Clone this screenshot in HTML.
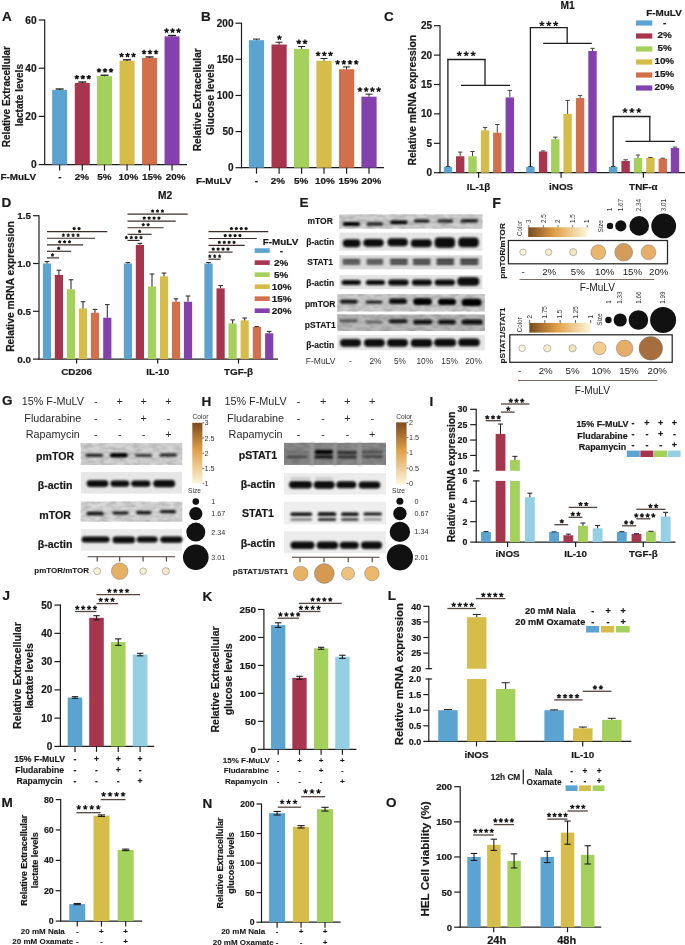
<!DOCTYPE html>
<html><head><meta charset="utf-8"><style>
html,body{margin:0;padding:0;background:#fff;width:685px;height:945px;overflow:hidden}
svg{display:block}
text{font-family:"Liberation Sans",sans-serif}
svg{opacity:0.999}
</style></head><body>
<svg width="685" height="945" viewBox="0 0 685 945">
<defs>
<filter id="b1" x="-20%" y="-50%" width="140%" height="200%"><feGaussianBlur stdDeviation="0.9"/></filter>
<filter id="b2" x="-20%" y="-50%" width="140%" height="200%"><feGaussianBlur stdDeviation="0.6"/></filter>
<filter id="b3" x="-20%" y="-80%" width="140%" height="260%"><feGaussianBlur stdDeviation="0.8"/></filter>
<filter id="bb" x="-5%" y="-20%" width="110%" height="140%"><feGaussianBlur stdDeviation="1.2"/></filter>
<filter id="nz" x="0" y="0" width="100%" height="100%" color-interpolation-filters="sRGB"><feTurbulence type="fractalNoise" baseFrequency="0.12 0.25" numOctaves="2" seed="7"/><feColorMatrix type="matrix" values="0 0 0 0 0  0 0 0 0 0  0 0 0 0 0  0.3 0 0 0 -0.1"/><feGaussianBlur stdDeviation="0.5"/></filter>
<linearGradient id="gh" x1="0" y1="0" x2="1" y2="0"><stop offset="0" stop-color="#7b4a1e"/><stop offset="0.45" stop-color="#e0a048"/><stop offset="1" stop-color="#fbf6dc"/></linearGradient>
<linearGradient id="gv" x1="0" y1="0" x2="0" y2="1"><stop offset="0" stop-color="#7b4a1e"/><stop offset="0.45" stop-color="#e0a048"/><stop offset="1" stop-color="#fbf6dc"/></linearGradient>
</defs>
<rect width="685" height="945" fill="#fff"/>
<text x="1.9" y="20.53" font-size="13.5" font-weight="700" text-anchor="start" fill="#1a1a1a" stroke="#1a1a1a" stroke-width="0.2">A</text>
<line x1="44.7" y1="19.5" x2="44.7" y2="165.1" stroke="#1e1e1e" stroke-width="1.2"/>
<line x1="38.7" y1="164.6" x2="44.7" y2="164.6" stroke="#1e1e1e" stroke-width="1.2"/>
<text x="36.7" y="168.25" font-size="10.2" font-weight="700" text-anchor="end" fill="#1a1a1a" stroke="#1a1a1a" stroke-width="0.2">0</text>
<line x1="38.7" y1="116.4" x2="44.7" y2="116.4" stroke="#1e1e1e" stroke-width="1.2"/>
<text x="36.7" y="120.05" font-size="10.2" font-weight="700" text-anchor="end" fill="#1a1a1a" stroke="#1a1a1a" stroke-width="0.2">20</text>
<line x1="38.7" y1="68.2" x2="44.7" y2="68.2" stroke="#1e1e1e" stroke-width="1.2"/>
<text x="36.7" y="71.85" font-size="10.2" font-weight="700" text-anchor="end" fill="#1a1a1a" stroke="#1a1a1a" stroke-width="0.2">40</text>
<line x1="38.7" y1="20" x2="44.7" y2="20" stroke="#1e1e1e" stroke-width="1.2"/>
<text x="36.7" y="23.65" font-size="10.2" font-weight="700" text-anchor="end" fill="#1a1a1a" stroke="#1a1a1a" stroke-width="0.2">60</text>
<line x1="44.2" y1="164.6" x2="187" y2="164.6" stroke="#1e1e1e" stroke-width="1.2"/>
<rect x="52.15" y="89.89" width="15" height="74.71" fill="#5ba3d1"/>
<line x1="59.65" y1="88.99" x2="59.65" y2="89.89" stroke="#1a1a1a" stroke-width="1.3"/>
<line x1="55.65" y1="88.99" x2="63.65" y2="88.99" stroke="#1a1a1a" stroke-width="1.3"/>
<line x1="59.65" y1="164.6" x2="59.65" y2="170.6" stroke="#1e1e1e" stroke-width="1.2"/>
<text x="59.9" y="180.04" font-size="9.9" font-weight="700" text-anchor="middle" fill="#1a1a1a" stroke="#1a1a1a" stroke-width="0.2">-</text>
<rect x="74.8" y="82.9" width="15" height="81.7" fill="#a8354e"/>
<line x1="82.3" y1="82" x2="82.3" y2="82.9" stroke="#1a1a1a" stroke-width="1.3"/>
<line x1="78.3" y1="82" x2="86.3" y2="82" stroke="#1a1a1a" stroke-width="1.3"/>
<line x1="82.3" y1="164.6" x2="82.3" y2="170.6" stroke="#1e1e1e" stroke-width="1.2"/>
<text x="81.8" y="180.04" font-size="9.9" font-weight="700" text-anchor="middle" fill="#1a1a1a" stroke="#1a1a1a" stroke-width="0.2">2%</text>
<path d="M76.8 77.24L76.8 74.89M76.8 77.24L79.03 76.51M76.8 77.24L78.18 79.14M76.8 77.24L75.42 79.14M76.8 77.24L74.57 76.51M82.8 77.24L82.8 74.89M82.8 77.24L85.03 76.51M82.8 77.24L84.18 79.14M82.8 77.24L81.42 79.14M82.8 77.24L80.57 76.51M88.8 77.24L88.8 74.89M88.8 77.24L91.03 76.51M88.8 77.24L90.18 79.14M88.8 77.24L87.42 79.14M88.8 77.24L86.57 76.51" stroke="#161616" stroke-width="1.4" fill="none"/>
<rect x="97" y="76.15" width="15" height="88.45" fill="#a4d05c"/>
<line x1="104.5" y1="75.25" x2="104.5" y2="76.15" stroke="#1a1a1a" stroke-width="1.3"/>
<line x1="100.5" y1="75.25" x2="108.5" y2="75.25" stroke="#1a1a1a" stroke-width="1.3"/>
<line x1="104.5" y1="164.6" x2="104.5" y2="170.6" stroke="#1e1e1e" stroke-width="1.2"/>
<text x="104.5" y="180.04" font-size="9.9" font-weight="700" text-anchor="middle" fill="#1a1a1a" stroke="#1a1a1a" stroke-width="0.2">5%</text>
<path d="M99 70.49L99 68.14M99 70.49L101.23 69.76M99 70.49L100.38 72.39M99 70.49L97.62 72.39M99 70.49L96.77 69.76M105 70.49L105 68.14M105 70.49L107.23 69.76M105 70.49L106.38 72.39M105 70.49L103.62 72.39M105 70.49L102.77 69.76M111 70.49L111 68.14M111 70.49L113.23 69.76M111 70.49L112.38 72.39M111 70.49L109.62 72.39M111 70.49L108.77 69.76" stroke="#161616" stroke-width="1.4" fill="none"/>
<rect x="119.55" y="60.73" width="15" height="103.87" fill="#d6bc48"/>
<line x1="127.05" y1="59.83" x2="127.05" y2="60.73" stroke="#1a1a1a" stroke-width="1.3"/>
<line x1="123.05" y1="59.83" x2="131.05" y2="59.83" stroke="#1a1a1a" stroke-width="1.3"/>
<line x1="127.05" y1="164.6" x2="127.05" y2="170.6" stroke="#1e1e1e" stroke-width="1.2"/>
<text x="128.5" y="180.04" font-size="9.9" font-weight="700" text-anchor="middle" fill="#1a1a1a" stroke="#1a1a1a" stroke-width="0.2">10%</text>
<path d="M121.55 55.06L121.55 52.71M121.55 55.06L123.78 54.34M121.55 55.06L122.93 56.97M121.55 55.06L120.17 56.97M121.55 55.06L119.32 54.34M127.55 55.06L127.55 52.71M127.55 55.06L129.78 54.34M127.55 55.06L128.93 56.97M127.55 55.06L126.17 56.97M127.55 55.06L125.32 54.34M133.55 55.06L133.55 52.71M133.55 55.06L135.78 54.34M133.55 55.06L134.93 56.97M133.55 55.06L132.17 56.97M133.55 55.06L131.32 54.34" stroke="#161616" stroke-width="1.4" fill="none"/>
<rect x="142.05" y="57.84" width="15" height="106.76" fill="#d1704b"/>
<line x1="149.55" y1="56.94" x2="149.55" y2="57.84" stroke="#1a1a1a" stroke-width="1.3"/>
<line x1="145.55" y1="56.94" x2="153.55" y2="56.94" stroke="#1a1a1a" stroke-width="1.3"/>
<line x1="149.55" y1="164.6" x2="149.55" y2="170.6" stroke="#1e1e1e" stroke-width="1.2"/>
<text x="152" y="180.04" font-size="9.9" font-weight="700" text-anchor="middle" fill="#1a1a1a" stroke="#1a1a1a" stroke-width="0.2">15%</text>
<path d="M144.05 52.17L144.05 49.82M144.05 52.17L146.28 51.45M144.05 52.17L145.43 54.07M144.05 52.17L142.67 54.07M144.05 52.17L141.82 51.45M150.05 52.17L150.05 49.82M150.05 52.17L152.28 51.45M150.05 52.17L151.43 54.07M150.05 52.17L148.67 54.07M150.05 52.17L147.82 51.45M156.05 52.17L156.05 49.82M156.05 52.17L158.28 51.45M156.05 52.17L157.43 54.07M156.05 52.17L154.67 54.07M156.05 52.17L153.82 51.45" stroke="#161616" stroke-width="1.4" fill="none"/>
<rect x="164.55" y="36.39" width="15" height="128.21" fill="#8441ae"/>
<line x1="172.05" y1="35.49" x2="172.05" y2="36.39" stroke="#1a1a1a" stroke-width="1.3"/>
<line x1="168.05" y1="35.49" x2="176.05" y2="35.49" stroke="#1a1a1a" stroke-width="1.3"/>
<line x1="172.05" y1="164.6" x2="172.05" y2="170.6" stroke="#1e1e1e" stroke-width="1.2"/>
<text x="175.7" y="180.04" font-size="9.9" font-weight="700" text-anchor="middle" fill="#1a1a1a" stroke="#1a1a1a" stroke-width="0.2">20%</text>
<path d="M166.55 30.72L166.55 28.37M166.55 30.72L168.78 30M166.55 30.72L167.93 32.62M166.55 30.72L165.17 32.62M166.55 30.72L164.32 30M172.55 30.72L172.55 28.37M172.55 30.72L174.78 30M172.55 30.72L173.93 32.62M172.55 30.72L171.17 32.62M172.55 30.72L170.32 30M178.55 30.72L178.55 28.37M178.55 30.72L180.78 30M178.55 30.72L179.93 32.62M178.55 30.72L177.17 32.62M178.55 30.72L176.32 30" stroke="#161616" stroke-width="1.4" fill="none"/>
<text x="0.5" y="180.14" font-size="9.9" font-weight="700" text-anchor="start" fill="#1a1a1a" stroke="#1a1a1a" stroke-width="0.2">F-MuLV</text>
<text x="6.8" y="100.18" font-size="10" font-weight="700" text-anchor="middle" fill="#1a1a1a" transform="rotate(-90 6.8 96.6)" stroke="#1a1a1a" stroke-width="0.2">Relative Extracellular</text>
<text x="19.4" y="98.78" font-size="10" font-weight="700" text-anchor="middle" fill="#1a1a1a" transform="rotate(-90 19.4 95.2)" stroke="#1a1a1a" stroke-width="0.2">lactate levels</text>
<text x="201" y="20.53" font-size="13.5" font-weight="700" text-anchor="start" fill="#1a1a1a" stroke="#1a1a1a" stroke-width="0.2">B</text>
<line x1="241.5" y1="22.7" x2="241.5" y2="168.2" stroke="#1e1e1e" stroke-width="1.2"/>
<line x1="235.5" y1="167.7" x2="241.5" y2="167.7" stroke="#1e1e1e" stroke-width="1.2"/>
<text x="233.5" y="171.28" font-size="10" font-weight="700" text-anchor="end" fill="#1a1a1a" stroke="#1a1a1a" stroke-width="0.2">0</text>
<line x1="235.5" y1="131.57" x2="241.5" y2="131.57" stroke="#1e1e1e" stroke-width="1.2"/>
<text x="233.5" y="135.16" font-size="10" font-weight="700" text-anchor="end" fill="#1a1a1a" stroke="#1a1a1a" stroke-width="0.2">50</text>
<line x1="235.5" y1="95.45" x2="241.5" y2="95.45" stroke="#1e1e1e" stroke-width="1.2"/>
<text x="233.5" y="99.03" font-size="10" font-weight="700" text-anchor="end" fill="#1a1a1a" stroke="#1a1a1a" stroke-width="0.2">100</text>
<line x1="235.5" y1="59.32" x2="241.5" y2="59.32" stroke="#1e1e1e" stroke-width="1.2"/>
<text x="233.5" y="62.9" font-size="10" font-weight="700" text-anchor="end" fill="#1a1a1a" stroke="#1a1a1a" stroke-width="0.2">150</text>
<line x1="235.5" y1="23.2" x2="241.5" y2="23.2" stroke="#1e1e1e" stroke-width="1.2"/>
<text x="233.5" y="26.78" font-size="10" font-weight="700" text-anchor="end" fill="#1a1a1a" stroke="#1a1a1a" stroke-width="0.2">200</text>
<line x1="241" y1="167.7" x2="384" y2="167.7" stroke="#1e1e1e" stroke-width="1.2"/>
<rect x="248.9" y="40.18" width="15.2" height="127.52" fill="#5ba3d1"/>
<line x1="256.5" y1="39.09" x2="256.5" y2="40.18" stroke="#1e1e1e" stroke-width="1"/>
<line x1="253" y1="39.09" x2="260" y2="39.09" stroke="#1e1e1e" stroke-width="1"/>
<line x1="256.5" y1="167.7" x2="256.5" y2="173.7" stroke="#1e1e1e" stroke-width="1.2"/>
<text x="256.4" y="184.14" font-size="9.9" font-weight="700" text-anchor="middle" fill="#1a1a1a" stroke="#1a1a1a" stroke-width="0.2">-</text>
<rect x="271.5" y="44.51" width="15.2" height="123.19" fill="#a8354e"/>
<line x1="279.1" y1="42.2" x2="279.1" y2="44.51" stroke="#1e1e1e" stroke-width="1"/>
<line x1="275.6" y1="42.2" x2="282.6" y2="42.2" stroke="#1e1e1e" stroke-width="1"/>
<line x1="279.1" y1="167.7" x2="279.1" y2="173.7" stroke="#1e1e1e" stroke-width="1.2"/>
<text x="277.8" y="184.14" font-size="9.9" font-weight="700" text-anchor="middle" fill="#1a1a1a" stroke="#1a1a1a" stroke-width="0.2">2%</text>
<path d="M279.4 37.65L279.4 35.2M279.4 37.65L281.73 36.89M279.4 37.65L280.84 39.63M279.4 37.65L277.96 39.63M279.4 37.65L277.07 36.89" stroke="#161616" stroke-width="1.4" fill="none"/>
<rect x="294" y="48.85" width="15.2" height="118.85" fill="#a4d05c"/>
<line x1="301.6" y1="46.54" x2="301.6" y2="48.85" stroke="#1e1e1e" stroke-width="1"/>
<line x1="298.1" y1="46.54" x2="305.1" y2="46.54" stroke="#1e1e1e" stroke-width="1"/>
<line x1="301.6" y1="167.7" x2="301.6" y2="173.7" stroke="#1e1e1e" stroke-width="1.2"/>
<text x="301.1" y="184.14" font-size="9.9" font-weight="700" text-anchor="middle" fill="#1a1a1a" stroke="#1a1a1a" stroke-width="0.2">5%</text>
<path d="M298.8 41.98L298.8 39.53M298.8 41.98L301.13 41.22M298.8 41.98L300.24 43.96M298.8 41.98L297.36 43.96M298.8 41.98L296.47 41.22M305 41.98L305 39.53M305 41.98L307.33 41.22M305 41.98L306.44 43.96M305 41.98L303.56 43.96M305 41.98L302.67 41.22" stroke="#161616" stroke-width="1.4" fill="none"/>
<rect x="316.4" y="60.77" width="15.2" height="106.93" fill="#d6bc48"/>
<line x1="324" y1="58.46" x2="324" y2="60.77" stroke="#1e1e1e" stroke-width="1"/>
<line x1="320.5" y1="58.46" x2="327.5" y2="58.46" stroke="#1e1e1e" stroke-width="1"/>
<line x1="324" y1="167.7" x2="324" y2="173.7" stroke="#1e1e1e" stroke-width="1.2"/>
<text x="324.9" y="184.14" font-size="9.9" font-weight="700" text-anchor="middle" fill="#1a1a1a" stroke="#1a1a1a" stroke-width="0.2">10%</text>
<path d="M318.1 53.9L318.1 51.45M318.1 53.9L320.43 53.15M318.1 53.9L319.54 55.89M318.1 53.9L316.66 55.89M318.1 53.9L315.77 53.15M324.3 53.9L324.3 51.45M324.3 53.9L326.63 53.15M324.3 53.9L325.74 55.89M324.3 53.9L322.86 55.89M324.3 53.9L321.97 53.15M330.5 53.9L330.5 51.45M330.5 53.9L332.83 53.15M330.5 53.9L331.94 55.89M330.5 53.9L329.06 55.89M330.5 53.9L328.17 53.15" stroke="#161616" stroke-width="1.4" fill="none"/>
<rect x="339" y="69.22" width="15.2" height="98.48" fill="#d1704b"/>
<line x1="346.6" y1="66.91" x2="346.6" y2="69.22" stroke="#1e1e1e" stroke-width="1"/>
<line x1="343.1" y1="66.91" x2="350.1" y2="66.91" stroke="#1e1e1e" stroke-width="1"/>
<line x1="346.6" y1="167.7" x2="346.6" y2="173.7" stroke="#1e1e1e" stroke-width="1.2"/>
<text x="348.3" y="184.14" font-size="9.9" font-weight="700" text-anchor="middle" fill="#1a1a1a" stroke="#1a1a1a" stroke-width="0.2">15%</text>
<path d="M337.6 62.36L337.6 59.91M337.6 62.36L339.93 61.6M337.6 62.36L339.04 64.34M337.6 62.36L336.16 64.34M337.6 62.36L335.27 61.6M343.8 62.36L343.8 59.91M343.8 62.36L346.13 61.6M343.8 62.36L345.24 64.34M343.8 62.36L342.36 64.34M343.8 62.36L341.47 61.6M350 62.36L350 59.91M350 62.36L352.33 61.6M350 62.36L351.44 64.34M350 62.36L348.56 64.34M350 62.36L347.67 61.6M356.2 62.36L356.2 59.91M356.2 62.36L358.53 61.6M356.2 62.36L357.64 64.34M356.2 62.36L354.76 64.34M356.2 62.36L353.87 61.6" stroke="#161616" stroke-width="1.4" fill="none"/>
<rect x="361.4" y="96.68" width="15.2" height="71.02" fill="#8441ae"/>
<line x1="369" y1="94.15" x2="369" y2="96.68" stroke="#1e1e1e" stroke-width="1"/>
<line x1="365.5" y1="94.15" x2="372.5" y2="94.15" stroke="#1e1e1e" stroke-width="1"/>
<line x1="369" y1="167.7" x2="369" y2="173.7" stroke="#1e1e1e" stroke-width="1.2"/>
<text x="371.5" y="184.14" font-size="9.9" font-weight="700" text-anchor="middle" fill="#1a1a1a" stroke="#1a1a1a" stroke-width="0.2">20%</text>
<path d="M360 89.59L360 87.14M360 89.59L362.33 88.84M360 89.59L361.44 91.58M360 89.59L358.56 91.58M360 89.59L357.67 88.84M366.2 89.59L366.2 87.14M366.2 89.59L368.53 88.84M366.2 89.59L367.64 91.58M366.2 89.59L364.76 91.58M366.2 89.59L363.87 88.84M372.4 89.59L372.4 87.14M372.4 89.59L374.73 88.84M372.4 89.59L373.84 91.58M372.4 89.59L370.96 91.58M372.4 89.59L370.07 88.84M378.6 89.59L378.6 87.14M378.6 89.59L380.93 88.84M378.6 89.59L380.04 91.58M378.6 89.59L377.16 91.58M378.6 89.59L376.27 88.84" stroke="#161616" stroke-width="1.4" fill="none"/>
<text x="196" y="184.34" font-size="9.9" font-weight="700" text-anchor="start" fill="#1a1a1a" stroke="#1a1a1a" stroke-width="0.2">F-MuLV</text>
<text x="197.2" y="103.35" font-size="10.2" font-weight="700" text-anchor="middle" fill="#1a1a1a" transform="rotate(-90 197.2 99.7)" stroke="#1a1a1a" stroke-width="0.2">Relative Extracellular</text>
<text x="209.9" y="103.05" font-size="10.2" font-weight="700" text-anchor="middle" fill="#1a1a1a" transform="rotate(-90 209.9 99.4)" stroke="#1a1a1a" stroke-width="0.2">Glucose levels</text>
<text x="383.9" y="20.53" font-size="13.5" font-weight="700" text-anchor="start" fill="#1a1a1a" stroke="#1a1a1a" stroke-width="0.2">C</text>
<text x="567.5" y="9.25" font-size="10.2" font-weight="700" text-anchor="middle" fill="#1a1a1a" stroke="#1a1a1a" stroke-width="0.2">M1</text>
<line x1="440" y1="25.2" x2="440" y2="173.2" stroke="#1e1e1e" stroke-width="1.2"/>
<line x1="434" y1="172.7" x2="440" y2="172.7" stroke="#1e1e1e" stroke-width="1.2"/>
<text x="432" y="176.28" font-size="10" font-weight="700" text-anchor="end" fill="#1a1a1a" stroke="#1a1a1a" stroke-width="0.2">0</text>
<line x1="434" y1="143.3" x2="440" y2="143.3" stroke="#1e1e1e" stroke-width="1.2"/>
<text x="432" y="146.88" font-size="10" font-weight="700" text-anchor="end" fill="#1a1a1a" stroke="#1a1a1a" stroke-width="0.2">5</text>
<line x1="434" y1="113.9" x2="440" y2="113.9" stroke="#1e1e1e" stroke-width="1.2"/>
<text x="432" y="117.48" font-size="10" font-weight="700" text-anchor="end" fill="#1a1a1a" stroke="#1a1a1a" stroke-width="0.2">10</text>
<line x1="434" y1="84.5" x2="440" y2="84.5" stroke="#1e1e1e" stroke-width="1.2"/>
<text x="432" y="88.08" font-size="10" font-weight="700" text-anchor="end" fill="#1a1a1a" stroke="#1a1a1a" stroke-width="0.2">15</text>
<line x1="434" y1="55.1" x2="440" y2="55.1" stroke="#1e1e1e" stroke-width="1.2"/>
<text x="432" y="58.68" font-size="10" font-weight="700" text-anchor="end" fill="#1a1a1a" stroke="#1a1a1a" stroke-width="0.2">20</text>
<line x1="434" y1="25.7" x2="440" y2="25.7" stroke="#1e1e1e" stroke-width="1.2"/>
<text x="432" y="29.28" font-size="10" font-weight="700" text-anchor="end" fill="#1a1a1a" stroke="#1a1a1a" stroke-width="0.2">25</text>
<line x1="439.5" y1="172.7" x2="685" y2="172.7" stroke="#1e1e1e" stroke-width="1.2"/>
<rect x="443.8" y="166.82" width="8.4" height="5.88" fill="#5ba3d1"/>
<line x1="448" y1="166.53" x2="448" y2="166.82" stroke="#444" stroke-width="1"/>
<line x1="445.8" y1="166.53" x2="450.2" y2="166.53" stroke="#444" stroke-width="1"/>
<rect x="456" y="156.24" width="8.4" height="16.46" fill="#a8354e"/>
<line x1="460.2" y1="152.12" x2="460.2" y2="156.24" stroke="#444" stroke-width="1"/>
<line x1="458" y1="152.12" x2="462.4" y2="152.12" stroke="#444" stroke-width="1"/>
<rect x="468.3" y="156.24" width="8.4" height="16.46" fill="#a4d05c"/>
<line x1="472.5" y1="151.53" x2="472.5" y2="156.24" stroke="#444" stroke-width="1"/>
<line x1="470.3" y1="151.53" x2="474.7" y2="151.53" stroke="#444" stroke-width="1"/>
<rect x="480.9" y="130.36" width="8.4" height="42.34" fill="#d6bc48"/>
<line x1="485.1" y1="127.42" x2="485.1" y2="130.36" stroke="#444" stroke-width="1"/>
<line x1="482.9" y1="127.42" x2="487.3" y2="127.42" stroke="#444" stroke-width="1"/>
<rect x="493.1" y="132.72" width="8.4" height="39.98" fill="#d1704b"/>
<line x1="497.3" y1="124.48" x2="497.3" y2="132.72" stroke="#444" stroke-width="1"/>
<line x1="495.1" y1="124.48" x2="499.5" y2="124.48" stroke="#444" stroke-width="1"/>
<rect x="505.6" y="97.44" width="8.4" height="75.26" fill="#8441ae"/>
<line x1="509.8" y1="90.38" x2="509.8" y2="97.44" stroke="#444" stroke-width="1"/>
<line x1="507.6" y1="90.38" x2="512" y2="90.38" stroke="#444" stroke-width="1"/>
<rect x="526.2" y="166.82" width="8.4" height="5.88" fill="#5ba3d1"/>
<line x1="530.4" y1="166.53" x2="530.4" y2="166.82" stroke="#444" stroke-width="1"/>
<line x1="528.2" y1="166.53" x2="532.6" y2="166.53" stroke="#444" stroke-width="1"/>
<rect x="538.9" y="151.53" width="8.4" height="21.17" fill="#a8354e"/>
<line x1="543.1" y1="150.94" x2="543.1" y2="151.53" stroke="#444" stroke-width="1"/>
<line x1="540.9" y1="150.94" x2="545.3" y2="150.94" stroke="#444" stroke-width="1"/>
<rect x="551.1" y="139.18" width="8.4" height="33.52" fill="#a4d05c"/>
<line x1="555.3" y1="137.13" x2="555.3" y2="139.18" stroke="#444" stroke-width="1"/>
<line x1="553.1" y1="137.13" x2="557.5" y2="137.13" stroke="#444" stroke-width="1"/>
<rect x="563.4" y="113.9" width="8.4" height="58.8" fill="#d6bc48"/>
<line x1="567.6" y1="100.38" x2="567.6" y2="113.9" stroke="#444" stroke-width="1"/>
<line x1="565.4" y1="100.38" x2="569.8" y2="100.38" stroke="#444" stroke-width="1"/>
<rect x="575.9" y="98.02" width="8.4" height="74.68" fill="#d1704b"/>
<line x1="580.1" y1="95.38" x2="580.1" y2="98.02" stroke="#444" stroke-width="1"/>
<line x1="577.9" y1="95.38" x2="582.3" y2="95.38" stroke="#444" stroke-width="1"/>
<rect x="588.3" y="50.98" width="8.4" height="121.72" fill="#8441ae"/>
<line x1="592.5" y1="48.34" x2="592.5" y2="50.98" stroke="#444" stroke-width="1"/>
<line x1="590.3" y1="48.34" x2="594.7" y2="48.34" stroke="#444" stroke-width="1"/>
<rect x="609" y="166.82" width="8.4" height="5.88" fill="#5ba3d1"/>
<line x1="613.2" y1="166.53" x2="613.2" y2="166.82" stroke="#444" stroke-width="1"/>
<line x1="611" y1="166.53" x2="615.4" y2="166.53" stroke="#444" stroke-width="1"/>
<rect x="621.4" y="160.94" width="8.4" height="11.76" fill="#a8354e"/>
<line x1="625.6" y1="159.76" x2="625.6" y2="160.94" stroke="#444" stroke-width="1"/>
<line x1="623.4" y1="159.76" x2="627.8" y2="159.76" stroke="#444" stroke-width="1"/>
<rect x="633.8" y="158" width="8.4" height="14.7" fill="#a4d05c"/>
<line x1="638" y1="155.06" x2="638" y2="158" stroke="#444" stroke-width="1"/>
<line x1="635.8" y1="155.06" x2="640.2" y2="155.06" stroke="#444" stroke-width="1"/>
<rect x="646.2" y="158" width="8.4" height="14.7" fill="#d6bc48"/>
<line x1="650.4" y1="157.53" x2="650.4" y2="158" stroke="#444" stroke-width="1"/>
<line x1="648.2" y1="157.53" x2="652.6" y2="157.53" stroke="#444" stroke-width="1"/>
<rect x="658.6" y="158.71" width="8.4" height="13.99" fill="#d1704b"/>
<line x1="662.8" y1="158.24" x2="662.8" y2="158.71" stroke="#444" stroke-width="1"/>
<line x1="660.6" y1="158.24" x2="665" y2="158.24" stroke="#444" stroke-width="1"/>
<rect x="670.8" y="148" width="8.4" height="24.7" fill="#8441ae"/>
<line x1="675" y1="147.12" x2="675" y2="148" stroke="#444" stroke-width="1"/>
<line x1="672.8" y1="147.12" x2="677.2" y2="147.12" stroke="#444" stroke-width="1"/>
<line x1="478.6" y1="172.7" x2="478.6" y2="177.7" stroke="#1e1e1e" stroke-width="1.2"/>
<text x="478.6" y="189.54" font-size="9.9" font-weight="700" text-anchor="middle" fill="#1a1a1a" stroke="#1a1a1a" stroke-width="0.2">IL-1β</text>
<line x1="561.1" y1="172.7" x2="561.1" y2="177.7" stroke="#1e1e1e" stroke-width="1.2"/>
<text x="561.1" y="189.54" font-size="9.9" font-weight="700" text-anchor="middle" fill="#1a1a1a" stroke="#1a1a1a" stroke-width="0.2">iNOS</text>
<line x1="643.4" y1="172.7" x2="643.4" y2="177.7" stroke="#1e1e1e" stroke-width="1.2"/>
<text x="643.4" y="189.54" font-size="9.9" font-weight="700" text-anchor="middle" fill="#1a1a1a" stroke="#1a1a1a" stroke-width="0.2">TNF-α</text>
<line x1="447.9" y1="166.5" x2="447.9" y2="59.5" stroke="#1e1e1e" stroke-width="1.3"/>
<line x1="447.25" y1="59.5" x2="485.65" y2="59.5" stroke="#1e1e1e" stroke-width="1.3"/>
<line x1="485" y1="59.5" x2="485" y2="85.3" stroke="#1e1e1e" stroke-width="1.3"/>
<line x1="461" y1="85.3" x2="510" y2="85.3" stroke="#1e1e1e" stroke-width="1.3"/>
<path d="M459.3 53.86L459.3 51.26M459.3 53.86L461.77 53.06M459.3 53.86L460.83 55.96M459.3 53.86L457.77 55.96M459.3 53.86L456.83 53.06M466.2 53.86L466.2 51.26M466.2 53.86L468.67 53.06M466.2 53.86L467.73 55.96M466.2 53.86L464.67 55.96M466.2 53.86L463.73 53.06M473.1 53.86L473.1 51.26M473.1 53.86L475.57 53.06M473.1 53.86L474.63 55.96M473.1 53.86L471.57 55.96M473.1 53.86L470.63 53.06" stroke="#161616" stroke-width="1.3" fill="none"/>
<line x1="530.4" y1="166.5" x2="530.4" y2="27.6" stroke="#1e1e1e" stroke-width="1.3"/>
<line x1="529.75" y1="27.6" x2="567.85" y2="27.6" stroke="#1e1e1e" stroke-width="1.3"/>
<line x1="567.2" y1="27.6" x2="567.2" y2="43.4" stroke="#1e1e1e" stroke-width="1.3"/>
<line x1="543.2" y1="43.4" x2="591.8" y2="43.4" stroke="#1e1e1e" stroke-width="1.3"/>
<path d="M541.9 23.86L541.9 21.26M541.9 23.86L544.37 23.06M541.9 23.86L543.43 25.96M541.9 23.86L540.37 25.96M541.9 23.86L539.43 23.06M548.8 23.86L548.8 21.26M548.8 23.86L551.27 23.06M548.8 23.86L550.33 25.96M548.8 23.86L547.27 25.96M548.8 23.86L546.33 23.06M555.7 23.86L555.7 21.26M555.7 23.86L558.17 23.06M555.7 23.86L557.23 25.96M555.7 23.86L554.17 25.96M555.7 23.86L553.23 23.06" stroke="#161616" stroke-width="1.3" fill="none"/>
<line x1="613.2" y1="166.5" x2="613.2" y2="116.5" stroke="#1e1e1e" stroke-width="1.3"/>
<line x1="612.55" y1="116.5" x2="650.45" y2="116.5" stroke="#1e1e1e" stroke-width="1.3"/>
<line x1="649.8" y1="116.5" x2="649.8" y2="141.3" stroke="#1e1e1e" stroke-width="1.3"/>
<line x1="625.5" y1="141.3" x2="674.8" y2="141.3" stroke="#1e1e1e" stroke-width="1.3"/>
<path d="M625 110.56L625 107.96M625 110.56L627.47 109.76M625 110.56L626.53 112.66M625 110.56L623.47 112.66M625 110.56L622.53 109.76M631.9 110.56L631.9 107.96M631.9 110.56L634.37 109.76M631.9 110.56L633.43 112.66M631.9 110.56L630.37 112.66M631.9 110.56L629.43 109.76M638.8 110.56L638.8 107.96M638.8 110.56L641.27 109.76M638.8 110.56L640.33 112.66M638.8 110.56L637.27 112.66M638.8 110.56L636.33 109.76" stroke="#161616" stroke-width="1.3" fill="none"/>
<text x="664" y="16.34" font-size="9.9" font-weight="700" text-anchor="middle" fill="#1a1a1a" stroke="#1a1a1a" stroke-width="0.2">F-MuLV</text>
<rect x="636" y="20.4" width="16.3" height="5.2" fill="#5ba3d1"/>
<text x="664.6" y="25.74" font-size="9.9" font-weight="700" text-anchor="middle" fill="#1a1a1a" stroke="#1a1a1a" stroke-width="0.2">-</text>
<rect x="636" y="33.4" width="16.3" height="5.2" fill="#a8354e"/>
<text x="657.4" y="38.34" font-size="9.9" font-weight="700" text-anchor="start" fill="#1a1a1a" stroke="#1a1a1a" stroke-width="0.2">2%</text>
<rect x="636" y="46.4" width="16.3" height="5.2" fill="#a4d05c"/>
<text x="657.4" y="51.34" font-size="9.9" font-weight="700" text-anchor="start" fill="#1a1a1a" stroke="#1a1a1a" stroke-width="0.2">5%</text>
<rect x="636" y="59.4" width="16.3" height="5.2" fill="#d6bc48"/>
<text x="654.4" y="64.34" font-size="9.9" font-weight="700" text-anchor="start" fill="#1a1a1a" stroke="#1a1a1a" stroke-width="0.2">10%</text>
<rect x="636" y="72.4" width="16.3" height="5.2" fill="#d1704b"/>
<text x="654.4" y="77.34" font-size="9.9" font-weight="700" text-anchor="start" fill="#1a1a1a" stroke="#1a1a1a" stroke-width="0.2">15%</text>
<rect x="636" y="85.4" width="16.3" height="5.2" fill="#8441ae"/>
<text x="654.4" y="90.34" font-size="9.9" font-weight="700" text-anchor="start" fill="#1a1a1a" stroke="#1a1a1a" stroke-width="0.2">20%</text>
<text x="412.3" y="103.89" font-size="10.3" font-weight="700" text-anchor="middle" fill="#1a1a1a" transform="rotate(-90 412.3 100.2)" stroke="#1a1a1a" stroke-width="0.2">Relative mRNA expression</text>
<text x="1.6" y="206.83" font-size="13.5" font-weight="700" text-anchor="start" fill="#1a1a1a" stroke="#1a1a1a" stroke-width="0.2">D</text>
<text x="165" y="199.05" font-size="10.2" font-weight="700" text-anchor="middle" fill="#1a1a1a" stroke="#1a1a1a" stroke-width="0.2">M2</text>
<line x1="39" y1="215.2" x2="39" y2="359.6" stroke="#1e1e1e" stroke-width="1.2"/>
<line x1="33" y1="359.1" x2="39" y2="359.1" stroke="#1e1e1e" stroke-width="1.2"/>
<text x="31" y="362.64" font-size="9.9" font-weight="700" text-anchor="end" fill="#1a1a1a" stroke="#1a1a1a" stroke-width="0.2">0.0</text>
<line x1="33" y1="311.3" x2="39" y2="311.3" stroke="#1e1e1e" stroke-width="1.2"/>
<text x="31" y="314.84" font-size="9.9" font-weight="700" text-anchor="end" fill="#1a1a1a" stroke="#1a1a1a" stroke-width="0.2">0.5</text>
<line x1="33" y1="263.5" x2="39" y2="263.5" stroke="#1e1e1e" stroke-width="1.2"/>
<text x="31" y="267.04" font-size="9.9" font-weight="700" text-anchor="end" fill="#1a1a1a" stroke="#1a1a1a" stroke-width="0.2">1.0</text>
<line x1="33" y1="215.7" x2="39" y2="215.7" stroke="#1e1e1e" stroke-width="1.2"/>
<text x="31" y="219.24" font-size="9.9" font-weight="700" text-anchor="end" fill="#1a1a1a" stroke="#1a1a1a" stroke-width="0.2">1.5</text>
<line x1="38.5" y1="359.1" x2="278" y2="359.1" stroke="#1e1e1e" stroke-width="1.2"/>
<rect x="42.9" y="263.5" width="8.2" height="95.6" fill="#5ba3d1"/>
<line x1="47" y1="261.59" x2="47" y2="263.5" stroke="#333" stroke-width="1.1"/>
<line x1="44.7" y1="261.59" x2="49.3" y2="261.59" stroke="#333" stroke-width="1.1"/>
<rect x="54.8" y="274.97" width="8.2" height="84.13" fill="#a8354e"/>
<line x1="58.9" y1="270.19" x2="58.9" y2="274.97" stroke="#333" stroke-width="1.1"/>
<line x1="56.6" y1="270.19" x2="61.2" y2="270.19" stroke="#333" stroke-width="1.1"/>
<rect x="66.9" y="289.31" width="8.2" height="69.79" fill="#a4d05c"/>
<line x1="71" y1="279.75" x2="71" y2="289.31" stroke="#333" stroke-width="1.1"/>
<line x1="68.7" y1="279.75" x2="73.3" y2="279.75" stroke="#333" stroke-width="1.1"/>
<rect x="78.9" y="308.43" width="8.2" height="50.67" fill="#d6bc48"/>
<line x1="83" y1="301.74" x2="83" y2="308.43" stroke="#333" stroke-width="1.1"/>
<line x1="80.7" y1="301.74" x2="85.3" y2="301.74" stroke="#333" stroke-width="1.1"/>
<rect x="90.9" y="312.73" width="8.2" height="46.37" fill="#d1704b"/>
<line x1="95" y1="309.39" x2="95" y2="312.73" stroke="#333" stroke-width="1.1"/>
<line x1="92.7" y1="309.39" x2="97.3" y2="309.39" stroke="#333" stroke-width="1.1"/>
<rect x="103.2" y="317.71" width="8.2" height="41.39" fill="#8441ae"/>
<line x1="107.3" y1="304.61" x2="107.3" y2="317.71" stroke="#333" stroke-width="1.1"/>
<line x1="105" y1="304.61" x2="109.6" y2="304.61" stroke="#333" stroke-width="1.1"/>
<rect x="123.8" y="263.5" width="8.2" height="95.6" fill="#5ba3d1"/>
<line x1="127.9" y1="262.54" x2="127.9" y2="263.5" stroke="#333" stroke-width="1.1"/>
<line x1="125.6" y1="262.54" x2="130.2" y2="262.54" stroke="#333" stroke-width="1.1"/>
<rect x="135.8" y="244.86" width="8.2" height="114.24" fill="#a8354e"/>
<line x1="139.9" y1="243.42" x2="139.9" y2="244.86" stroke="#333" stroke-width="1.1"/>
<line x1="137.6" y1="243.42" x2="142.2" y2="243.42" stroke="#333" stroke-width="1.1"/>
<rect x="147.9" y="286.44" width="8.2" height="72.66" fill="#a4d05c"/>
<line x1="152" y1="274.02" x2="152" y2="286.44" stroke="#333" stroke-width="1.1"/>
<line x1="149.7" y1="274.02" x2="154.3" y2="274.02" stroke="#333" stroke-width="1.1"/>
<rect x="159.9" y="276.41" width="8.2" height="82.69" fill="#d6bc48"/>
<line x1="164" y1="273.06" x2="164" y2="276.41" stroke="#333" stroke-width="1.1"/>
<line x1="161.7" y1="273.06" x2="166.3" y2="273.06" stroke="#333" stroke-width="1.1"/>
<rect x="171.9" y="301.74" width="8.2" height="57.36" fill="#d1704b"/>
<line x1="176" y1="298.87" x2="176" y2="301.74" stroke="#333" stroke-width="1.1"/>
<line x1="173.7" y1="298.87" x2="178.3" y2="298.87" stroke="#333" stroke-width="1.1"/>
<rect x="183.9" y="301.74" width="8.2" height="57.36" fill="#8441ae"/>
<line x1="188" y1="296" x2="188" y2="301.74" stroke="#333" stroke-width="1.1"/>
<line x1="185.7" y1="296" x2="190.3" y2="296" stroke="#333" stroke-width="1.1"/>
<rect x="204.4" y="263.5" width="8.2" height="95.6" fill="#5ba3d1"/>
<line x1="208.5" y1="262.54" x2="208.5" y2="263.5" stroke="#333" stroke-width="1.1"/>
<line x1="206.2" y1="262.54" x2="210.8" y2="262.54" stroke="#333" stroke-width="1.1"/>
<rect x="216.5" y="288.36" width="8.2" height="70.74" fill="#a8354e"/>
<line x1="220.6" y1="285.49" x2="220.6" y2="288.36" stroke="#333" stroke-width="1.1"/>
<line x1="218.3" y1="285.49" x2="222.9" y2="285.49" stroke="#333" stroke-width="1.1"/>
<rect x="228.5" y="323.44" width="8.2" height="35.66" fill="#a4d05c"/>
<line x1="232.6" y1="319.9" x2="232.6" y2="323.44" stroke="#333" stroke-width="1.1"/>
<line x1="230.3" y1="319.9" x2="234.9" y2="319.9" stroke="#333" stroke-width="1.1"/>
<rect x="240.6" y="320.38" width="8.2" height="38.72" fill="#d6bc48"/>
<line x1="244.7" y1="317.99" x2="244.7" y2="320.38" stroke="#333" stroke-width="1.1"/>
<line x1="242.4" y1="317.99" x2="247" y2="317.99" stroke="#333" stroke-width="1.1"/>
<rect x="252.8" y="326.88" width="8.2" height="32.22" fill="#d1704b"/>
<line x1="256.9" y1="326.6" x2="256.9" y2="326.88" stroke="#333" stroke-width="1.1"/>
<line x1="254.6" y1="326.6" x2="259.2" y2="326.6" stroke="#333" stroke-width="1.1"/>
<rect x="265.1" y="333.29" width="8.2" height="25.81" fill="#8441ae"/>
<line x1="269.2" y1="331.38" x2="269.2" y2="333.29" stroke="#333" stroke-width="1.1"/>
<line x1="266.9" y1="331.38" x2="271.5" y2="331.38" stroke="#333" stroke-width="1.1"/>
<line x1="76.6" y1="359.1" x2="76.6" y2="363.6" stroke="#1e1e1e" stroke-width="1.2"/>
<text x="76.6" y="374.54" font-size="9.9" font-weight="700" text-anchor="middle" fill="#1a1a1a" stroke="#1a1a1a" stroke-width="0.2">CD206</text>
<line x1="157.7" y1="359.1" x2="157.7" y2="363.6" stroke="#1e1e1e" stroke-width="1.2"/>
<text x="157.7" y="374.54" font-size="9.9" font-weight="700" text-anchor="middle" fill="#1a1a1a" stroke="#1a1a1a" stroke-width="0.2">IL-10</text>
<line x1="238.5" y1="359.1" x2="238.5" y2="363.6" stroke="#1e1e1e" stroke-width="1.2"/>
<text x="238.5" y="374.54" font-size="9.9" font-weight="700" text-anchor="middle" fill="#1a1a1a" stroke="#1a1a1a" stroke-width="0.2">TGF-β</text>
<line x1="47" y1="257.9" x2="59.1" y2="257.9" stroke="#3a2f2a" stroke-width="1.15"/>
<path d="M52.5 254.96L52.5 253.31M52.5 254.96L54.07 254.46M52.5 254.96L53.47 256.3M52.5 254.96L51.53 256.3M52.5 254.96L50.93 254.46" stroke="#161616" stroke-width="1.2" fill="none"/>
<line x1="47" y1="251.3" x2="71.2" y2="251.3" stroke="#3a2f2a" stroke-width="1.15"/>
<path d="M58.7 248.37L58.7 246.72M58.7 248.37L60.27 247.86M58.7 248.37L59.67 249.7M58.7 248.37L57.73 249.7M58.7 248.37L57.13 247.86" stroke="#161616" stroke-width="1.2" fill="none"/>
<line x1="47" y1="244.8" x2="83.2" y2="244.8" stroke="#3a2f2a" stroke-width="1.15"/>
<path d="M59.7 241.87L59.7 240.22M59.7 241.87L61.27 241.36M59.7 241.87L60.67 243.2M59.7 241.87L58.73 243.2M59.7 241.87L58.13 241.36M64.6 241.87L64.6 240.22M64.6 241.87L66.17 241.36M64.6 241.87L65.57 243.2M64.6 241.87L63.63 243.2M64.6 241.87L63.03 241.36M69.5 241.87L69.5 240.22M69.5 241.87L71.07 241.36M69.5 241.87L70.47 243.2M69.5 241.87L68.53 243.2M69.5 241.87L67.93 241.36" stroke="#161616" stroke-width="1.2" fill="none"/>
<line x1="47" y1="238.2" x2="95.2" y2="238.2" stroke="#3a2f2a" stroke-width="1.15"/>
<path d="M63.35 235.26L63.35 233.61M63.35 235.26L64.92 234.76M63.35 235.26L64.32 236.6M63.35 235.26L62.38 236.6M63.35 235.26L61.78 234.76M68.25 235.26L68.25 233.61M68.25 235.26L69.82 234.76M68.25 235.26L69.22 236.6M68.25 235.26L67.28 236.6M68.25 235.26L66.68 234.76M73.15 235.26L73.15 233.61M73.15 235.26L74.72 234.76M73.15 235.26L74.12 236.6M73.15 235.26L72.18 236.6M73.15 235.26L71.58 234.76M78.05 235.26L78.05 233.61M78.05 235.26L79.62 234.76M78.05 235.26L79.02 236.6M78.05 235.26L77.08 236.6M78.05 235.26L76.48 234.76" stroke="#161616" stroke-width="1.2" fill="none"/>
<line x1="47" y1="231.6" x2="107.3" y2="231.6" stroke="#3a2f2a" stroke-width="1.15"/>
<path d="M74.15 228.66L74.15 227.01M74.15 228.66L75.72 228.16M74.15 228.66L75.12 230M74.15 228.66L73.18 230M74.15 228.66L72.58 228.16M79.05 228.66L79.05 227.01M79.05 228.66L80.62 228.16M79.05 228.66L80.02 230M79.05 228.66L78.08 230M79.05 228.66L77.48 228.16" stroke="#161616" stroke-width="1.2" fill="none"/>
<line x1="127.5" y1="240.4" x2="139.6" y2="240.4" stroke="#3a2f2a" stroke-width="1.15"/>
<path d="M126.35 237.47L126.35 235.81M126.35 237.47L127.92 236.96M126.35 237.47L127.32 238.8M126.35 237.47L125.38 238.8M126.35 237.47L124.78 236.96M131.25 237.47L131.25 235.81M131.25 237.47L132.82 236.96M131.25 237.47L132.22 238.8M131.25 237.47L130.28 238.8M131.25 237.47L129.68 236.96M136.15 237.47L136.15 235.81M136.15 237.47L137.72 236.96M136.15 237.47L137.12 238.8M136.15 237.47L135.18 238.8M136.15 237.47L134.58 236.96M141.05 237.47L141.05 235.81M141.05 237.47L142.62 236.96M141.05 237.47L142.02 238.8M141.05 237.47L140.08 238.8M141.05 237.47L139.48 236.96" stroke="#161616" stroke-width="1.2" fill="none"/>
<line x1="127.5" y1="234.3" x2="151.6" y2="234.3" stroke="#3a2f2a" stroke-width="1.15"/>
<path d="M139.6 231.37L139.6 229.72M139.6 231.37L141.17 230.86M139.6 231.37L140.57 232.7M139.6 231.37L138.63 232.7M139.6 231.37L138.03 230.86" stroke="#161616" stroke-width="1.2" fill="none"/>
<line x1="127.5" y1="227.7" x2="163.6" y2="227.7" stroke="#3a2f2a" stroke-width="1.15"/>
<path d="M143.25 224.76L143.25 223.11M143.25 224.76L144.82 224.26M143.25 224.76L144.22 226.1M143.25 224.76L142.28 226.1M143.25 224.76L141.68 224.26M148.15 224.76L148.15 223.11M148.15 224.76L149.72 224.26M148.15 224.76L149.12 226.1M148.15 224.76L147.18 226.1M148.15 224.76L146.58 224.26" stroke="#161616" stroke-width="1.2" fill="none"/>
<line x1="127.5" y1="221.1" x2="175.7" y2="221.1" stroke="#3a2f2a" stroke-width="1.15"/>
<path d="M144.25 218.16L144.25 216.51M144.25 218.16L145.82 217.66M144.25 218.16L145.22 219.5M144.25 218.16L143.28 219.5M144.25 218.16L142.68 217.66M149.15 218.16L149.15 216.51M149.15 218.16L150.72 217.66M149.15 218.16L150.12 219.5M149.15 218.16L148.18 219.5M149.15 218.16L147.58 217.66M154.05 218.16L154.05 216.51M154.05 218.16L155.62 217.66M154.05 218.16L155.02 219.5M154.05 218.16L153.08 219.5M154.05 218.16L152.48 217.66M158.95 218.16L158.95 216.51M158.95 218.16L160.52 217.66M158.95 218.16L159.92 219.5M158.95 218.16L157.98 219.5M158.95 218.16L157.38 217.66" stroke="#161616" stroke-width="1.2" fill="none"/>
<line x1="127.5" y1="214.1" x2="187.7" y2="214.1" stroke="#3a2f2a" stroke-width="1.15"/>
<path d="M152.6 211.16L152.6 209.51M152.6 211.16L154.17 210.66M152.6 211.16L153.57 212.5M152.6 211.16L151.63 212.5M152.6 211.16L151.03 210.66M157.5 211.16L157.5 209.51M157.5 211.16L159.07 210.66M157.5 211.16L158.47 212.5M157.5 211.16L156.53 212.5M157.5 211.16L155.93 210.66M162.4 211.16L162.4 209.51M162.4 211.16L163.97 210.66M162.4 211.16L163.37 212.5M162.4 211.16L161.43 212.5M162.4 211.16L160.83 210.66" stroke="#161616" stroke-width="1.2" fill="none"/>
<line x1="208.5" y1="259.2" x2="220.6" y2="259.2" stroke="#3a2f2a" stroke-width="1.15"/>
<path d="M209.8 256.26L209.8 254.61M209.8 256.26L211.37 255.76M209.8 256.26L210.77 257.6M209.8 256.26L208.83 257.6M209.8 256.26L208.23 255.76M214.7 256.26L214.7 254.61M214.7 256.26L216.27 255.76M214.7 256.26L215.67 257.6M214.7 256.26L213.73 257.6M214.7 256.26L213.13 255.76M219.6 256.26L219.6 254.61M219.6 256.26L221.17 255.76M219.6 256.26L220.57 257.6M219.6 256.26L218.63 257.6M219.6 256.26L218.03 255.76" stroke="#161616" stroke-width="1.2" fill="none"/>
<line x1="208.5" y1="252.1" x2="232.6" y2="252.1" stroke="#3a2f2a" stroke-width="1.15"/>
<path d="M213.25 249.16L213.25 247.51M213.25 249.16L214.82 248.66M213.25 249.16L214.22 250.5M213.25 249.16L212.28 250.5M213.25 249.16L211.68 248.66M218.15 249.16L218.15 247.51M218.15 249.16L219.72 248.66M218.15 249.16L219.12 250.5M218.15 249.16L217.18 250.5M218.15 249.16L216.58 248.66M223.05 249.16L223.05 247.51M223.05 249.16L224.62 248.66M223.05 249.16L224.02 250.5M223.05 249.16L222.08 250.5M223.05 249.16L221.48 248.66M227.95 249.16L227.95 247.51M227.95 249.16L229.52 248.66M227.95 249.16L228.92 250.5M227.95 249.16L226.98 250.5M227.95 249.16L226.38 248.66" stroke="#161616" stroke-width="1.2" fill="none"/>
<line x1="208.5" y1="245.3" x2="244.7" y2="245.3" stroke="#3a2f2a" stroke-width="1.15"/>
<path d="M219.35 242.37L219.35 240.72M219.35 242.37L220.92 241.86M219.35 242.37L220.32 243.7M219.35 242.37L218.38 243.7M219.35 242.37L217.78 241.86M224.25 242.37L224.25 240.72M224.25 242.37L225.82 241.86M224.25 242.37L225.22 243.7M224.25 242.37L223.28 243.7M224.25 242.37L222.68 241.86M229.15 242.37L229.15 240.72M229.15 242.37L230.72 241.86M229.15 242.37L230.12 243.7M229.15 242.37L228.18 243.7M229.15 242.37L227.58 241.86M234.05 242.37L234.05 240.72M234.05 242.37L235.62 241.86M234.05 242.37L235.02 243.7M234.05 242.37L233.08 243.7M234.05 242.37L232.48 241.86" stroke="#161616" stroke-width="1.2" fill="none"/>
<line x1="208.5" y1="238.5" x2="256.7" y2="238.5" stroke="#3a2f2a" stroke-width="1.15"/>
<path d="M225.25 235.56L225.25 233.91M225.25 235.56L226.82 235.06M225.25 235.56L226.22 236.9M225.25 235.56L224.28 236.9M225.25 235.56L223.68 235.06M230.15 235.56L230.15 233.91M230.15 235.56L231.72 235.06M230.15 235.56L231.12 236.9M230.15 235.56L229.18 236.9M230.15 235.56L228.58 235.06M235.05 235.56L235.05 233.91M235.05 235.56L236.62 235.06M235.05 235.56L236.02 236.9M235.05 235.56L234.08 236.9M235.05 235.56L233.48 235.06M239.95 235.56L239.95 233.91M239.95 235.56L241.52 235.06M239.95 235.56L240.92 236.9M239.95 235.56L238.98 236.9M239.95 235.56L238.38 235.06" stroke="#161616" stroke-width="1.2" fill="none"/>
<line x1="208.5" y1="231.6" x2="268.3" y2="231.6" stroke="#3a2f2a" stroke-width="1.15"/>
<path d="M231.45 228.66L231.45 227.01M231.45 228.66L233.02 228.16M231.45 228.66L232.42 230M231.45 228.66L230.48 230M231.45 228.66L229.88 228.16M236.35 228.66L236.35 227.01M236.35 228.66L237.92 228.16M236.35 228.66L237.32 230M236.35 228.66L235.38 230M236.35 228.66L234.78 228.16M241.25 228.66L241.25 227.01M241.25 228.66L242.82 228.16M241.25 228.66L242.22 230M241.25 228.66L240.28 230M241.25 228.66L239.68 228.16M246.15 228.66L246.15 227.01M246.15 228.66L247.72 228.16M246.15 228.66L247.12 230M246.15 228.66L245.18 230M246.15 228.66L244.58 228.16" stroke="#161616" stroke-width="1.2" fill="none"/>
<text x="280.5" y="244.64" font-size="9.9" font-weight="700" text-anchor="middle" fill="#1a1a1a" stroke="#1a1a1a" stroke-width="0.2">F-MuLV</text>
<rect x="254.7" y="248.3" width="15" height="4.6" fill="#5ba3d1"/>
<text x="281.5" y="254.14" font-size="9.9" font-weight="700" text-anchor="middle" fill="#1a1a1a" stroke="#1a1a1a" stroke-width="0.2">-</text>
<rect x="254.7" y="260.32" width="15" height="4.6" fill="#a8354e"/>
<text x="273.9" y="266.16" font-size="9.9" font-weight="700" text-anchor="start" fill="#1a1a1a" stroke="#1a1a1a" stroke-width="0.2">2%</text>
<rect x="254.7" y="272.34" width="15" height="4.6" fill="#a4d05c"/>
<text x="273.9" y="278.18" font-size="9.9" font-weight="700" text-anchor="start" fill="#1a1a1a" stroke="#1a1a1a" stroke-width="0.2">5%</text>
<rect x="254.7" y="284.36" width="15" height="4.6" fill="#d6bc48"/>
<text x="271.8" y="290.2" font-size="9.9" font-weight="700" text-anchor="start" fill="#1a1a1a" stroke="#1a1a1a" stroke-width="0.2">10%</text>
<rect x="254.7" y="296.38" width="15" height="4.6" fill="#d1704b"/>
<text x="271.8" y="302.22" font-size="9.9" font-weight="700" text-anchor="start" fill="#1a1a1a" stroke="#1a1a1a" stroke-width="0.2">15%</text>
<rect x="254.7" y="308.4" width="15" height="4.6" fill="#8441ae"/>
<text x="271.8" y="314.24" font-size="9.9" font-weight="700" text-anchor="start" fill="#1a1a1a" stroke="#1a1a1a" stroke-width="0.2">20%</text>
<text x="9.9" y="290.19" font-size="10.3" font-weight="700" text-anchor="middle" fill="#1a1a1a" transform="rotate(-90 9.9 286.5)" stroke="#1a1a1a" stroke-width="0.2">Relative mRNA expression</text>
<text x="299.4" y="206.53" font-size="13.5" font-weight="700" text-anchor="start" fill="#1a1a1a" stroke="#1a1a1a" stroke-width="0.2">E</text>
<rect x="339.4" y="214.5" width="143" height="14.1" fill="#d0d0d0"/>
<rect x="339.4" y="214.5" width="143" height="14.1" fill="#000" filter="url(#nz)"/>
<g filter="url(#b3)">
<rect x="342.7" y="222.1" width="17.4" height="3.8" rx="1.9" fill="#050505" opacity="1"/>
<rect x="366.6" y="222.4" width="16.6" height="3.2" rx="1.6" fill="#0c0c0c" opacity="1"/>
<rect x="390.2" y="220.5" width="17.4" height="3.8" rx="1.9" fill="#050505" opacity="1"/>
<rect x="413.7" y="219.4" width="16" height="3" rx="1.5" fill="#161616" opacity="1"/>
<rect x="437.4" y="219.4" width="15.8" height="3" rx="1.5" fill="#1a1a1a" opacity="1"/>
<rect x="460.5" y="219.2" width="17.6" height="3.4" rx="1.7" fill="#101010" opacity="1"/>
</g>
<rect x="339.4" y="232.6" width="143" height="18.1" fill="#e5e5e5"/>
<g filter="url(#b1)">
<rect x="342.7" y="239.35" width="17.8" height="7.9" rx="3.95" fill="#0a0a0a" opacity="1"/>
<rect x="363.3" y="238.95" width="20.4" height="7.7" rx="3.85" fill="#0a0a0a" opacity="1"/>
<rect x="387.5" y="238.35" width="20.4" height="7.9" rx="3.95" fill="#0a0a0a" opacity="1"/>
<rect x="410.8" y="239.35" width="21" height="7.9" rx="3.95" fill="#0a0a0a" opacity="1"/>
<rect x="434.6" y="237.4" width="20.4" height="10.4" rx="4" fill="#080808" opacity="1"/>
<rect x="458.3" y="237.4" width="20.4" height="9.8" rx="4" fill="#080808" opacity="1"/>
</g>
<rect x="339.4" y="255.3" width="143" height="14" fill="#d8d8d8"/>
<g filter="url(#b3)">
<rect x="342.4" y="259" width="18" height="6" rx="3" fill="#8a8a8a" opacity="0.8"/>
<rect x="366.4" y="259" width="17" height="6" rx="3" fill="#8a8a8a" opacity="0.8"/>
<rect x="389.9" y="259" width="18" height="6" rx="3" fill="#8a8a8a" opacity="0.8"/>
<rect x="412.7" y="259" width="18" height="6" rx="3" fill="#8a8a8a" opacity="0.8"/>
<rect x="436.3" y="259" width="18" height="6" rx="3" fill="#8a8a8a" opacity="0.8"/>
<rect x="460.05" y="259" width="18.5" height="6" rx="3" fill="#8a8a8a" opacity="0.8"/>
<rect x="342.4" y="259.2" width="18" height="2" rx="1" fill="#262626" opacity="1"/>
<rect x="342.4" y="262.6" width="18" height="2" rx="1" fill="#383838" opacity="1"/>
<rect x="366.4" y="259.2" width="17" height="2" rx="1" fill="#2e2e2e" opacity="1"/>
<rect x="366.4" y="262.6" width="17" height="2" rx="1" fill="#3e3e3e" opacity="1"/>
<rect x="389.9" y="259.1" width="18" height="2.2" rx="1.1" fill="#1e1e1e" opacity="1"/>
<rect x="389.9" y="262.5" width="18" height="2.2" rx="1.1" fill="#2e2e2e" opacity="1"/>
<rect x="412.7" y="259.1" width="18" height="2.2" rx="1.1" fill="#1a1a1a" opacity="1"/>
<rect x="412.7" y="262.5" width="18" height="2.2" rx="1.1" fill="#2a2a2a" opacity="1"/>
<rect x="436.3" y="258.8" width="18" height="2.4" rx="1.2" fill="#121212" opacity="1"/>
<rect x="436.3" y="262.5" width="18" height="2.2" rx="1.1" fill="#222" opacity="1"/>
<rect x="460.05" y="258.8" width="18.5" height="2.4" rx="1.2" fill="#121212" opacity="1"/>
<rect x="460.05" y="262.5" width="18.5" height="2.2" rx="1.1" fill="#222" opacity="1"/>
</g>
<rect x="339.4" y="275.2" width="143" height="14" fill="#e2e2e2"/>
<g filter="url(#b1)">
<rect x="341.6" y="280.1" width="19.2" height="5" rx="2.5" fill="#0a0a0a" opacity="1"/>
<rect x="365.8" y="280.1" width="19.2" height="5" rx="2.5" fill="#0a0a0a" opacity="1"/>
<rect x="388.2" y="279.4" width="20.4" height="6" rx="3" fill="#0a0a0a" opacity="1"/>
<rect x="411.9" y="279.4" width="20" height="6" rx="3" fill="#0a0a0a" opacity="1"/>
<rect x="434.6" y="279.4" width="20.4" height="6" rx="3" fill="#0a0a0a" opacity="1"/>
<rect x="457.3" y="277.2" width="22" height="8.6" rx="4" fill="#080808" opacity="1"/>
</g>
<rect x="337.3" y="294.2" width="147.5" height="17.2" fill="#cbcbcb"/>
<rect x="337.3" y="294.2" width="147.5" height="17.2" fill="#000" filter="url(#nz)"/>
<g filter="url(#b3)">
<rect x="340" y="299.7" width="17.6" height="3.8" rx="1.9" fill="#0c0c0c" opacity="1"/>
<rect x="365.5" y="300.7" width="17" height="2.8" rx="1.4" fill="#141414" opacity="1"/>
</g>
<g filter="url(#b1)">
<rect x="389" y="298.5" width="18" height="5.4" rx="2.7" fill="#080808" opacity="1"/>
<rect x="413.1" y="298.2" width="18.8" height="6.8" rx="3.4" fill="#060606" opacity="1"/>
<rect x="438" y="298.8" width="18" height="6.2" rx="3.1" fill="#060606" opacity="1"/>
<rect x="461.65" y="298.8" width="19.9" height="7.2" rx="3.6" fill="#060606" opacity="1"/>
</g>
<rect x="337.3" y="314.5" width="147.5" height="16.5" fill="#b9b9b9"/>
<rect x="337.3" y="314.5" width="147.5" height="16.5" fill="#000" filter="url(#nz)"/>
<g filter="url(#b3)">
<rect x="339.5" y="319.6" width="18" height="2.6" rx="1.3" fill="#2a2a2a" opacity="0.8"/>
<rect x="365.5" y="320.8" width="17" height="2.4" rx="1.2" fill="#3a3a3a" opacity="0.7"/>
<rect x="388.95" y="319.3" width="18.5" height="4" rx="2" fill="#141414" opacity="1"/>
<rect x="413.1" y="319.8" width="19.2" height="4.4" rx="2.2" fill="#101010" opacity="1"/>
<rect x="438" y="319.8" width="18" height="4.4" rx="2.2" fill="#101010" opacity="1"/>
</g>
<g filter="url(#b1)">
<rect x="461.35" y="319.5" width="21.5" height="5" rx="2.5" fill="#0c0c0c" opacity="1"/>
</g>
<rect x="337.3" y="334.9" width="147.5" height="15.4" fill="#e6e6e6"/>
<g filter="url(#b1)">
<rect x="340" y="338.9" width="21" height="7.8" rx="3.9" fill="#080808" opacity="1"/>
<rect x="364" y="338.9" width="20.8" height="7.8" rx="3.9" fill="#080808" opacity="1"/>
<rect x="387.05" y="338.9" width="20.9" height="7.8" rx="3.9" fill="#080808" opacity="1"/>
<rect x="410.75" y="339.1" width="21.5" height="7.8" rx="3.9" fill="#080808" opacity="1"/>
<rect x="434.1" y="338.7" width="22" height="7.8" rx="3.9" fill="#080808" opacity="1"/>
<rect x="458.25" y="338.5" width="21.5" height="7.8" rx="3.9" fill="#080808" opacity="1"/>
</g>
<text x="320.2" y="224.04" font-size="8.5" font-weight="700" text-anchor="middle" fill="#1a1a1a" stroke="#1a1a1a" stroke-width="0.15">mTOR</text>
<text x="320.2" y="244.84" font-size="8.5" font-weight="700" text-anchor="middle" fill="#1a1a1a" stroke="#1a1a1a" stroke-width="0.15">β-actin</text>
<text x="320.2" y="265.34" font-size="8.5" font-weight="700" text-anchor="middle" fill="#1a1a1a" stroke="#1a1a1a" stroke-width="0.15">STAT1</text>
<text x="320.2" y="286.04" font-size="8.5" font-weight="700" text-anchor="middle" fill="#1a1a1a" stroke="#1a1a1a" stroke-width="0.15">β-actin</text>
<text x="320.2" y="306.84" font-size="8.5" font-weight="700" text-anchor="middle" fill="#1a1a1a" stroke="#1a1a1a" stroke-width="0.15">pmTOR</text>
<text x="320.2" y="327.54" font-size="8.5" font-weight="700" text-anchor="middle" fill="#1a1a1a" stroke="#1a1a1a" stroke-width="0.15">pSTAT1</text>
<text x="320.2" y="348.04" font-size="8.5" font-weight="700" text-anchor="middle" fill="#1a1a1a" stroke="#1a1a1a" stroke-width="0.15">β-actin</text>
<text x="320.6" y="363.84" font-size="8.5" font-weight="400" text-anchor="middle" fill="#333">F-MuLV</text>
<text x="350.4" y="363.77" font-size="8.3" font-weight="400" text-anchor="middle" fill="#333">-</text>
<text x="375.5" y="363.77" font-size="8.3" font-weight="400" text-anchor="middle" fill="#333">2%</text>
<text x="400" y="363.77" font-size="8.3" font-weight="400" text-anchor="middle" fill="#333">5%</text>
<text x="424.8" y="363.77" font-size="8.3" font-weight="400" text-anchor="middle" fill="#333">10%</text>
<text x="449.6" y="363.77" font-size="8.3" font-weight="400" text-anchor="middle" fill="#333">15%</text>
<text x="473.5" y="363.77" font-size="8.3" font-weight="400" text-anchor="middle" fill="#333">20%</text>
<text x="492.3" y="208.18" font-size="14.2" font-weight="700" text-anchor="start" fill="#1a1a1a" stroke="#1a1a1a" stroke-width="0.2">F</text>
<text x="502.5" y="253.9" font-size="8.1" font-weight="700" text-anchor="middle" fill="#1a1a1a" transform="rotate(-90 502.5 251)" stroke="#1a1a1a" stroke-width="0.11">pmTOR/mTOR</text>
<text x="520.2" y="230.76" font-size="6.3" font-weight="400" text-anchor="middle" fill="#333" transform="rotate(-90 520.2 228.5)">Color</text>
<rect x="528.2" y="227.3" width="59" height="9.7" fill="url(#gh)"/>
<line x1="528.8" y1="225.2" x2="528.8" y2="227.3" stroke="#333" stroke-width="0.7"/>
<text x="528.8" y="225.26" font-size="6.3" font-weight="400" text-anchor="start" fill="#333" transform="rotate(-90 528.8 223)">3</text>
<line x1="543.4" y1="225.2" x2="543.4" y2="227.3" stroke="#333" stroke-width="0.7"/>
<text x="543.4" y="225.26" font-size="6.3" font-weight="400" text-anchor="start" fill="#333" transform="rotate(-90 543.4 223)">2.5</text>
<line x1="558" y1="225.2" x2="558" y2="227.3" stroke="#333" stroke-width="0.7"/>
<text x="558" y="225.26" font-size="6.3" font-weight="400" text-anchor="start" fill="#333" transform="rotate(-90 558 223)">2</text>
<line x1="572.6" y1="225.2" x2="572.6" y2="227.3" stroke="#333" stroke-width="0.7"/>
<text x="572.6" y="225.26" font-size="6.3" font-weight="400" text-anchor="start" fill="#333" transform="rotate(-90 572.6 223)">1.5</text>
<line x1="587.2" y1="225.2" x2="587.2" y2="227.3" stroke="#333" stroke-width="0.7"/>
<text x="587.2" y="225.26" font-size="6.3" font-weight="400" text-anchor="start" fill="#333" transform="rotate(-90 587.2 223)">1</text>
<text x="600.3" y="228.56" font-size="6.3" font-weight="400" text-anchor="middle" fill="#333" transform="rotate(-90 600.3 226.3)">Size</text>
<circle cx="610" cy="225.9" r="3.2" fill="#111"/>
<text x="610" y="213.56" font-size="6.3" font-weight="400" text-anchor="start" fill="#333" transform="rotate(-90 610 211.3)">1</text>
<circle cx="620.8" cy="225.9" r="5.6" fill="#111"/>
<text x="620.8" y="213.56" font-size="6.3" font-weight="400" text-anchor="start" fill="#333" transform="rotate(-90 620.8 211.3)">1.67</text>
<circle cx="639.2" cy="225.9" r="9.8" fill="#111"/>
<text x="639.2" y="213.56" font-size="6.3" font-weight="400" text-anchor="start" fill="#333" transform="rotate(-90 639.2 211.3)">2.34</text>
<circle cx="663.7" cy="225.9" r="12.4" fill="#111"/>
<text x="663.7" y="213.56" font-size="6.3" font-weight="400" text-anchor="start" fill="#333" transform="rotate(-90 663.7 211.3)">3.01</text>
<rect x="508.4" y="240.5" width="159.1" height="23.3" fill="none" stroke="#262626" stroke-width="1.25"/>
<circle cx="523" cy="252.2" r="3.2" fill="#f9f3d6" stroke="#7a7a7a" stroke-width="0.5"/>
<circle cx="548.6" cy="252.2" r="3.3" fill="#f7eecd" stroke="#7a7a7a" stroke-width="0.5"/>
<circle cx="573.2" cy="252.2" r="3.6" fill="#f4e6c0" stroke="#7a7a7a" stroke-width="0.5"/>
<circle cx="598.3" cy="252.2" r="7.4" fill="#e9b66c" stroke="#7a7a7a" stroke-width="0.5"/>
<circle cx="623.7" cy="252.2" r="8.9" fill="#d49c5a" stroke="#7a7a7a" stroke-width="0.5"/>
<circle cx="648.5" cy="252.2" r="7.4" fill="#e6af67" stroke="#7a7a7a" stroke-width="0.5"/>
<text x="523" y="274.57" font-size="9.7" font-weight="400" text-anchor="middle" fill="#222">-</text>
<text x="549.2" y="274.57" font-size="9.7" font-weight="400" text-anchor="middle" fill="#222">2%</text>
<text x="577.8" y="274.57" font-size="9.7" font-weight="400" text-anchor="middle" fill="#222">5%</text>
<text x="604.7" y="274.57" font-size="9.7" font-weight="400" text-anchor="middle" fill="#222">10%</text>
<text x="632.4" y="274.57" font-size="9.7" font-weight="400" text-anchor="middle" fill="#222">15%</text>
<text x="658.7" y="274.57" font-size="9.7" font-weight="400" text-anchor="middle" fill="#222">20%</text>
<line x1="519.5" y1="279.5" x2="654.3" y2="279.5" stroke="#786c65" stroke-width="1.2"/>
<text x="597.4" y="290.82" font-size="10.1" font-weight="400" text-anchor="middle" fill="#222">F-MuLV</text>
<text x="502.5" y="338.3" font-size="8.1" font-weight="700" text-anchor="middle" fill="#1a1a1a" transform="rotate(-90 502.5 335.4)" stroke="#1a1a1a" stroke-width="0.11">pSTAT1/STAT1</text>
<text x="520.2" y="327.06" font-size="6.3" font-weight="400" text-anchor="middle" fill="#333" transform="rotate(-90 520.2 324.8)">Color</text>
<rect x="529.3" y="322.9" width="61.4" height="9.7" fill="url(#gh)"/>
<line x1="529.6" y1="320.1" x2="529.6" y2="322.9" stroke="#333" stroke-width="0.8"/>
<text x="529.6" y="320.86" font-size="6.3" font-weight="400" text-anchor="start" fill="#333" transform="rotate(-90 529.6 318.6)">2</text>
<line x1="544.87" y1="320.1" x2="544.87" y2="322.9" stroke="#333" stroke-width="0.8"/>
<text x="544.87" y="320.86" font-size="6.3" font-weight="400" text-anchor="start" fill="#333" transform="rotate(-90 544.87 318.6)">1.75</text>
<line x1="560.14" y1="320.1" x2="560.14" y2="322.9" stroke="#333" stroke-width="0.8"/>
<text x="560.14" y="320.86" font-size="6.3" font-weight="400" text-anchor="start" fill="#333" transform="rotate(-90 560.14 318.6)">1.5</text>
<line x1="575.41" y1="320.1" x2="575.41" y2="322.9" stroke="#333" stroke-width="0.8"/>
<text x="575.41" y="320.86" font-size="6.3" font-weight="400" text-anchor="start" fill="#333" transform="rotate(-90 575.41 318.6)">1.25</text>
<line x1="590.68" y1="320.1" x2="590.68" y2="322.9" stroke="#333" stroke-width="0.8"/>
<text x="590.68" y="320.86" font-size="6.3" font-weight="400" text-anchor="start" fill="#333" transform="rotate(-90 590.68 318.6)">1</text>
<text x="599.7" y="321.76" font-size="6.3" font-weight="400" text-anchor="middle" fill="#333" transform="rotate(-90 599.7 319.5)">Size</text>
<circle cx="608.4" cy="320" r="3.2" fill="#111"/>
<text x="608.4" y="306.06" font-size="6.3" font-weight="400" text-anchor="start" fill="#333" transform="rotate(-90 608.4 303.8)">1</text>
<circle cx="620.2" cy="320" r="6.6" fill="#111"/>
<text x="620.2" y="306.06" font-size="6.3" font-weight="400" text-anchor="start" fill="#333" transform="rotate(-90 620.2 303.8)">1.33</text>
<circle cx="638.4" cy="320" r="9.8" fill="#111"/>
<text x="638.4" y="306.06" font-size="6.3" font-weight="400" text-anchor="start" fill="#333" transform="rotate(-90 638.4 303.8)">1.66</text>
<circle cx="663.1" cy="320" r="13" fill="#111"/>
<text x="663.1" y="306.06" font-size="6.3" font-weight="400" text-anchor="start" fill="#333" transform="rotate(-90 663.1 303.8)">1.99</text>
<rect x="509.8" y="334.8" width="162.4" height="27.5" fill="none" stroke="#262626" stroke-width="1.25"/>
<circle cx="522.1" cy="348.3" r="3.3" fill="#faf5dd" stroke="#7a7a7a" stroke-width="0.5"/>
<circle cx="547.2" cy="348.3" r="3.6" fill="#f6eecd" stroke="#7a7a7a" stroke-width="0.5"/>
<circle cx="572.6" cy="348.3" r="3.6" fill="#f3e4c0" stroke="#7a7a7a" stroke-width="0.5"/>
<circle cx="599.5" cy="348.3" r="6.5" fill="#f1cb8f" stroke="#7a7a7a" stroke-width="0.5"/>
<circle cx="624.6" cy="348.3" r="8.3" fill="#e5ad67" stroke="#7a7a7a" stroke-width="0.5"/>
<circle cx="650.8" cy="348.3" r="11.8" fill="#a66d3e" stroke="#7a7a7a" stroke-width="0.5"/>
<text x="519.5" y="374.47" font-size="9.7" font-weight="400" text-anchor="middle" fill="#222">-</text>
<text x="545.7" y="374.47" font-size="9.7" font-weight="400" text-anchor="middle" fill="#222">2%</text>
<text x="572.6" y="374.47" font-size="9.7" font-weight="400" text-anchor="middle" fill="#222">5%</text>
<text x="601.2" y="374.47" font-size="9.7" font-weight="400" text-anchor="middle" fill="#222">10%</text>
<text x="629" y="374.47" font-size="9.7" font-weight="400" text-anchor="middle" fill="#222">15%</text>
<text x="657.3" y="374.47" font-size="9.7" font-weight="400" text-anchor="middle" fill="#222">20%</text>
<line x1="518" y1="380.5" x2="657.3" y2="380.5" stroke="#786c65" stroke-width="1.2"/>
<text x="592.4" y="393.52" font-size="10.1" font-weight="400" text-anchor="middle" fill="#222">F-MuLV</text>
<text x="1.96" y="405.43" font-size="13.5" font-weight="700" text-anchor="start" fill="#1a1a1a" stroke="#1a1a1a" stroke-width="0.2">G</text>
<text x="52.8" y="405.47" font-size="10.8" font-weight="400" text-anchor="middle" fill="#2a2a2a">15% F-MuLV</text>
<text x="95.8" y="405.47" font-size="10.8" font-weight="400" text-anchor="middle" fill="#2a2a2a">-</text>
<text x="119.7" y="405.47" font-size="10.8" font-weight="400" text-anchor="middle" fill="#2a2a2a">+</text>
<text x="143.6" y="405.47" font-size="10.8" font-weight="400" text-anchor="middle" fill="#2a2a2a">+</text>
<text x="168.5" y="405.47" font-size="10.8" font-weight="400" text-anchor="middle" fill="#2a2a2a">+</text>
<text x="52.8" y="421.87" font-size="10.8" font-weight="400" text-anchor="middle" fill="#2a2a2a">Fludarabine</text>
<text x="95.8" y="421.87" font-size="10.8" font-weight="400" text-anchor="middle" fill="#2a2a2a">-</text>
<text x="119.7" y="421.87" font-size="10.8" font-weight="400" text-anchor="middle" fill="#2a2a2a">-</text>
<text x="143.6" y="421.87" font-size="10.8" font-weight="400" text-anchor="middle" fill="#2a2a2a">+</text>
<text x="168.5" y="421.87" font-size="10.8" font-weight="400" text-anchor="middle" fill="#2a2a2a">-</text>
<text x="52.8" y="438.07" font-size="10.8" font-weight="400" text-anchor="middle" fill="#2a2a2a">Rapamycin</text>
<text x="95.8" y="438.07" font-size="10.8" font-weight="400" text-anchor="middle" fill="#2a2a2a">-</text>
<text x="119.7" y="438.07" font-size="10.8" font-weight="400" text-anchor="middle" fill="#2a2a2a">-</text>
<text x="143.6" y="438.07" font-size="10.8" font-weight="400" text-anchor="middle" fill="#2a2a2a">-</text>
<text x="168.5" y="438.07" font-size="10.8" font-weight="400" text-anchor="middle" fill="#2a2a2a">+</text>
<rect x="80.9" y="443.2" width="101.2" height="21.7" fill="#d3d3d3"/>
<rect x="80.9" y="443.2" width="101.2" height="21.7" fill="#000" filter="url(#nz)"/>
<g filter="url(#b3)">
<rect x="85.55" y="453.9" width="17.5" height="2.8" rx="1.4" fill="#111" opacity="1"/>
<rect x="135" y="454.3" width="17" height="2.4" rx="1.2" fill="#1e1e1e" opacity="1"/>
<rect x="159.7" y="453.8" width="17.2" height="2.8" rx="1.4" fill="#111" opacity="1"/>
</g>
<g filter="url(#b1)">
<rect x="109.9" y="453" width="17.8" height="4.6" rx="2.3" fill="#050505" opacity="1"/>
</g>
<rect x="80.9" y="472.1" width="101.2" height="21.4" fill="#e6e6e6"/>
<g filter="url(#b1)">
<rect x="86.7" y="480.3" width="21.6" height="6.6" rx="3.3" fill="#080808" opacity="1"/>
<rect x="110.5" y="480.5" width="18.8" height="6.2" rx="3.1" fill="#080808" opacity="1"/>
<rect x="131.2" y="480.4" width="19.2" height="6.4" rx="3.2" fill="#080808" opacity="1"/>
<rect x="153.2" y="479.9" width="22" height="7.4" rx="3.7" fill="#080808" opacity="1"/>
</g>
<rect x="80.9" y="501.8" width="101.2" height="19.8" fill="#d7d7d7"/>
<rect x="80.9" y="501.8" width="101.2" height="19.8" fill="#000" filter="url(#nz)"/>
<g filter="url(#b3)">
<rect x="86.45" y="511.8" width="17.5" height="3.4" rx="1.7" fill="#111" opacity="1"/>
<rect x="112.5" y="511.6" width="16.2" height="3" rx="1.5" fill="#151515" opacity="1"/>
<rect x="136" y="510.9" width="15.4" height="3.4" rx="1.7" fill="#111" opacity="1"/>
<rect x="160" y="510.1" width="16" height="3.2" rx="1.6" fill="#131313" opacity="1"/>
</g>
<rect x="80.9" y="529.1" width="101.2" height="21.7" fill="#eaeaea"/>
<g filter="url(#b1)">
<rect x="81.6" y="536.6" width="28" height="6" rx="3" fill="#080808" opacity="1"/>
<rect x="112.55" y="536.6" width="22.5" height="6.6" rx="3.3" fill="#080808" opacity="1"/>
<rect x="136.75" y="536.6" width="20.9" height="6" rx="3" fill="#080808" opacity="1"/>
<rect x="160.3" y="536.5" width="22.2" height="6.2" rx="3.1" fill="#080808" opacity="1"/>
</g>
<text x="55.1" y="460.29" font-size="10.6" font-weight="700" text-anchor="middle" fill="#1a1a1a" stroke="#1a1a1a" stroke-width="0.2">pmTOR</text>
<text x="55.1" y="489.49" font-size="10.6" font-weight="700" text-anchor="middle" fill="#1a1a1a" stroke="#1a1a1a" stroke-width="0.2">β-actin</text>
<text x="55.1" y="518.69" font-size="10.6" font-weight="700" text-anchor="middle" fill="#1a1a1a" stroke="#1a1a1a" stroke-width="0.2">mTOR</text>
<text x="55.1" y="547.89" font-size="10.6" font-weight="700" text-anchor="middle" fill="#1a1a1a" stroke="#1a1a1a" stroke-width="0.2">β-actin</text>
<line x1="87.6" y1="556.7" x2="175.2" y2="556.7" stroke="#4a3e38" stroke-width="1.1"/>
<line x1="97.2" y1="556.7" x2="97.2" y2="561.6" stroke="#4a3e38" stroke-width="1.1"/>
<line x1="119.7" y1="556.7" x2="119.7" y2="561.6" stroke="#4a3e38" stroke-width="1.1"/>
<line x1="143.1" y1="556.7" x2="143.1" y2="561.6" stroke="#4a3e38" stroke-width="1.1"/>
<line x1="166.4" y1="556.7" x2="166.4" y2="561.6" stroke="#4a3e38" stroke-width="1.1"/>
<text x="61.7" y="573.46" font-size="8" font-weight="700" text-anchor="middle" fill="#1a1a1a" stroke="#1a1a1a" stroke-width="0.1">pmTOR/mTOR</text>
<circle cx="97.2" cy="571.2" r="3.5" fill="#f8f1d3" stroke="#7a7a7a" stroke-width="0.5"/>
<circle cx="119.7" cy="571.2" r="8.3" fill="#e6b062" stroke="#7a7a7a" stroke-width="0.5"/>
<circle cx="143.1" cy="571.2" r="3.3" fill="#f7efcf" stroke="#7a7a7a" stroke-width="0.5"/>
<circle cx="165.8" cy="571.2" r="3.6" fill="#f5ebc8" stroke="#7a7a7a" stroke-width="0.5"/>
<text x="200.5" y="418.76" font-size="6.6" font-weight="400" text-anchor="middle" fill="#333">Color</text>
<rect x="192.3" y="422.8" width="10.1" height="60.8" fill="url(#gv)"/>
<line x1="202.4" y1="422.8" x2="204.2" y2="422.8" stroke="#333" stroke-width="0.7"/>
<text x="204.6" y="425.38" font-size="7.2" font-weight="400" text-anchor="start" fill="#333">3</text>
<line x1="202.4" y1="438" x2="204.2" y2="438" stroke="#333" stroke-width="0.7"/>
<text x="204.6" y="440.58" font-size="7.2" font-weight="400" text-anchor="start" fill="#333">2.5</text>
<line x1="202.4" y1="453.2" x2="204.2" y2="453.2" stroke="#333" stroke-width="0.7"/>
<text x="204.6" y="455.78" font-size="7.2" font-weight="400" text-anchor="start" fill="#333">2</text>
<line x1="202.4" y1="468.4" x2="204.2" y2="468.4" stroke="#333" stroke-width="0.7"/>
<text x="204.6" y="470.98" font-size="7.2" font-weight="400" text-anchor="start" fill="#333">1.5</text>
<line x1="202.4" y1="483.6" x2="204.2" y2="483.6" stroke="#333" stroke-width="0.7"/>
<text x="204.6" y="486.18" font-size="7.2" font-weight="400" text-anchor="start" fill="#333">1</text>
<text x="194.5" y="493.26" font-size="6.6" font-weight="400" text-anchor="middle" fill="#333">Size</text>
<circle cx="195.8" cy="501.6" r="3.3" fill="#111"/>
<text x="211.3" y="504.18" font-size="7.2" font-weight="400" text-anchor="start" fill="#333">1</text>
<circle cx="195.8" cy="513.6" r="6.6" fill="#111"/>
<text x="211.3" y="516.18" font-size="7.2" font-weight="400" text-anchor="start" fill="#333">1.67</text>
<circle cx="195.8" cy="532.1" r="9.5" fill="#111"/>
<text x="211.3" y="534.68" font-size="7.2" font-weight="400" text-anchor="start" fill="#333">2.34</text>
<circle cx="195.8" cy="557.3" r="12.8" fill="#111"/>
<text x="211.3" y="559.88" font-size="7.2" font-weight="400" text-anchor="start" fill="#333">3.01</text>
<text x="201.4" y="405.83" font-size="13.5" font-weight="700" text-anchor="start" fill="#1a1a1a" stroke="#1a1a1a" stroke-width="0.2">H</text>
<text x="255.6" y="405.47" font-size="10.8" font-weight="400" text-anchor="middle" fill="#2a2a2a">15% F-MuLV</text>
<text x="298.6" y="405.47" font-size="10.8" font-weight="400" text-anchor="middle" fill="#2a2a2a">-</text>
<text x="323.1" y="405.47" font-size="10.8" font-weight="400" text-anchor="middle" fill="#2a2a2a">+</text>
<text x="347.4" y="405.47" font-size="10.8" font-weight="400" text-anchor="middle" fill="#2a2a2a">+</text>
<text x="372.2" y="405.47" font-size="10.8" font-weight="400" text-anchor="middle" fill="#2a2a2a">+</text>
<text x="255.6" y="421.87" font-size="10.8" font-weight="400" text-anchor="middle" fill="#2a2a2a">Fludarabine</text>
<text x="298.6" y="421.87" font-size="10.8" font-weight="400" text-anchor="middle" fill="#2a2a2a">-</text>
<text x="323.1" y="421.87" font-size="10.8" font-weight="400" text-anchor="middle" fill="#2a2a2a">-</text>
<text x="347.4" y="421.87" font-size="10.8" font-weight="400" text-anchor="middle" fill="#2a2a2a">+</text>
<text x="372.2" y="421.87" font-size="10.8" font-weight="400" text-anchor="middle" fill="#2a2a2a">-</text>
<text x="255.6" y="438.27" font-size="10.8" font-weight="400" text-anchor="middle" fill="#2a2a2a">Rapamycin</text>
<text x="298.6" y="438.27" font-size="10.8" font-weight="400" text-anchor="middle" fill="#2a2a2a">-</text>
<text x="323.1" y="438.27" font-size="10.8" font-weight="400" text-anchor="middle" fill="#2a2a2a">-</text>
<text x="347.4" y="438.27" font-size="10.8" font-weight="400" text-anchor="middle" fill="#2a2a2a">-</text>
<text x="372.2" y="438.27" font-size="10.8" font-weight="400" text-anchor="middle" fill="#2a2a2a">+</text>
<rect x="284" y="442.9" width="102" height="22" fill="#8a8a8a"/>
<rect x="284" y="442.9" width="102" height="22" fill="#000" filter="url(#nz)"/>
<rect x="309.9" y="442.9" width="4.2" height="22" fill="#969696" filter="url(#b1)"/>
<rect x="333.3" y="442.9" width="3.4" height="22" fill="#969696" filter="url(#b1)"/>
<rect x="357.5" y="442.9" width="4" height="22" fill="#969696" filter="url(#b1)"/>
<g filter="url(#b3)">
<rect x="286.7" y="451" width="21" height="2.4" rx="1.2" fill="#555" opacity="0.5"/>
<rect x="286.7" y="455.5" width="21" height="2.8" rx="1.4" fill="#333" opacity="0.75"/>
<rect x="314.55" y="450.1" width="18.5" height="3.8" rx="1.9" fill="#050505" opacity="1"/>
<rect x="314.55" y="455.3" width="18.5" height="3.2" rx="1.6" fill="#151515" opacity="1"/>
<rect x="337.25" y="450.9" width="19.5" height="3" rx="1.5" fill="#262626" opacity="0.9"/>
<rect x="337.25" y="455.4" width="19.5" height="3" rx="1.5" fill="#262626" opacity="0.9"/>
<rect x="362.15" y="450.7" width="20.5" height="2.6" rx="1.3" fill="#333" opacity="0.8"/>
<rect x="362.15" y="455.3" width="20.5" height="2.6" rx="1.3" fill="#333" opacity="0.8"/>
</g>
<rect x="284" y="473" width="102" height="21.6" fill="#ececec"/>
<g filter="url(#b1)">
<rect x="289" y="481.1" width="23" height="7.4" rx="3.7" fill="#080808" opacity="1"/>
<rect x="313.7" y="480.9" width="21" height="7.8" rx="3.9" fill="#080808" opacity="1"/>
<rect x="336.3" y="481.3" width="20" height="7" rx="3.5" fill="#080808" opacity="1"/>
<rect x="358.65" y="481.4" width="21.7" height="7.2" rx="3.6" fill="#080808" opacity="1"/>
</g>
<g filter="url(#b3)">
<rect x="290.5" y="477.5" width="20" height="2" rx="1" fill="#bbb" opacity="1"/>
<rect x="315.2" y="477.5" width="18" height="2" rx="1" fill="#bbb" opacity="1"/>
</g>
<rect x="284" y="501.8" width="102" height="22.5" fill="#eeeeee"/>
<g filter="url(#b3)">
<rect x="290.45" y="512.5" width="21.7" height="3.4" rx="1.7" fill="#0c0c0c" opacity="1"/>
<rect x="290.45" y="518.3" width="21.7" height="2.4" rx="1.2" fill="#777" opacity="1"/>
<rect x="317.75" y="512.3" width="18.5" height="3.8" rx="1.9" fill="#080808" opacity="1"/>
<rect x="317.75" y="518.1" width="18.5" height="2.8" rx="1.4" fill="#333" opacity="1"/>
<rect x="341.05" y="512.4" width="17.7" height="3.6" rx="1.8" fill="#0a0a0a" opacity="1"/>
<rect x="341.05" y="518.2" width="17.7" height="2.6" rx="1.3" fill="#333" opacity="1"/>
<rect x="363.45" y="512.5" width="18.5" height="3" rx="1.5" fill="#111" opacity="1"/>
<rect x="363.45" y="518.2" width="18.5" height="2.2" rx="1.1" fill="#888" opacity="1"/>
</g>
<rect x="284" y="531.5" width="102" height="21.7" fill="#ececec"/>
<g filter="url(#b1)">
<rect x="290.5" y="541.5" width="24" height="7.4" rx="3.7" fill="#080808" opacity="1"/>
<rect x="316.65" y="541.4" width="21.5" height="7.6" rx="3.8" fill="#080808" opacity="1"/>
<rect x="339.7" y="541.7" width="19" height="7" rx="3.5" fill="#080808" opacity="1"/>
<rect x="361" y="541.5" width="21" height="7.4" rx="3.7" fill="#080808" opacity="1"/>
</g>
<text x="258" y="458.99" font-size="10.6" font-weight="700" text-anchor="middle" fill="#1a1a1a" stroke="#1a1a1a" stroke-width="0.2">pSTAT1</text>
<text x="258" y="487.79" font-size="10.6" font-weight="700" text-anchor="middle" fill="#1a1a1a" stroke="#1a1a1a" stroke-width="0.2">β-actin</text>
<text x="258" y="516.79" font-size="10.6" font-weight="700" text-anchor="middle" fill="#1a1a1a" stroke="#1a1a1a" stroke-width="0.2">STAT1</text>
<text x="258" y="546.69" font-size="10.6" font-weight="700" text-anchor="middle" fill="#1a1a1a" stroke="#1a1a1a" stroke-width="0.2">β-actin</text>
<line x1="291.9" y1="557.3" x2="379.5" y2="557.3" stroke="#4a3e38" stroke-width="1.1"/>
<line x1="300" y1="557.3" x2="300" y2="562.2" stroke="#4a3e38" stroke-width="1.1"/>
<line x1="324" y1="557.3" x2="324" y2="562.2" stroke="#4a3e38" stroke-width="1.1"/>
<line x1="348.2" y1="557.3" x2="348.2" y2="562.2" stroke="#4a3e38" stroke-width="1.1"/>
<line x1="372.2" y1="557.3" x2="372.2" y2="562.2" stroke="#4a3e38" stroke-width="1.1"/>
<text x="260.5" y="573.76" font-size="8" font-weight="700" text-anchor="middle" fill="#1a1a1a" stroke="#1a1a1a" stroke-width="0.1">pSTAT1/STAT1</text>
<circle cx="300.7" cy="573.5" r="7.3" fill="#e8b262" stroke="#7a7a7a" stroke-width="0.5"/>
<circle cx="324.3" cy="573.5" r="9.9" fill="#d49a52" stroke="#7a7a7a" stroke-width="0.5"/>
<circle cx="348" cy="573.5" r="6.5" fill="#f0c27f" stroke="#7a7a7a" stroke-width="0.5"/>
<circle cx="371.9" cy="573.5" r="7.3" fill="#ebb86c" stroke="#7a7a7a" stroke-width="0.5"/>
<text x="404.2" y="418.56" font-size="6.6" font-weight="400" text-anchor="middle" fill="#333">Color</text>
<rect x="396.1" y="422.4" width="10.5" height="61.9" fill="url(#gv)"/>
<line x1="406.6" y1="422.4" x2="408.4" y2="422.4" stroke="#333" stroke-width="0.7"/>
<text x="409" y="424.98" font-size="7.2" font-weight="400" text-anchor="start" fill="#333">2</text>
<line x1="406.6" y1="437.65" x2="408.4" y2="437.65" stroke="#333" stroke-width="0.7"/>
<text x="409" y="440.23" font-size="7.2" font-weight="400" text-anchor="start" fill="#333">1.5</text>
<line x1="406.6" y1="452.9" x2="408.4" y2="452.9" stroke="#333" stroke-width="0.7"/>
<text x="409" y="455.48" font-size="7.2" font-weight="400" text-anchor="start" fill="#333">1</text>
<line x1="406.6" y1="468.15" x2="408.4" y2="468.15" stroke="#333" stroke-width="0.7"/>
<text x="409" y="470.73" font-size="7.2" font-weight="400" text-anchor="start" fill="#333">0.5</text>
<line x1="406.6" y1="483.4" x2="408.4" y2="483.4" stroke="#333" stroke-width="0.7"/>
<text x="409" y="485.98" font-size="7.2" font-weight="400" text-anchor="start" fill="#333">0</text>
<text x="398.5" y="493.06" font-size="6.6" font-weight="400" text-anchor="middle" fill="#333">Size</text>
<circle cx="399.9" cy="501.2" r="3.5" fill="#111"/>
<text x="414.5" y="503.78" font-size="7.2" font-weight="400" text-anchor="start" fill="#333">0</text>
<circle cx="399.9" cy="513.5" r="6.7" fill="#111"/>
<text x="414.5" y="516.08" font-size="7.2" font-weight="400" text-anchor="start" fill="#333">0.67</text>
<circle cx="399.9" cy="531.9" r="10.2" fill="#111"/>
<text x="414.5" y="534.48" font-size="7.2" font-weight="400" text-anchor="start" fill="#333">1.34</text>
<circle cx="399.9" cy="557.3" r="13.1" fill="#111"/>
<text x="414.5" y="559.88" font-size="7.2" font-weight="400" text-anchor="start" fill="#333">2.01</text>
<text x="429.4" y="405.83" font-size="13.5" font-weight="700" text-anchor="start" fill="#1a1a1a" stroke="#1a1a1a" stroke-width="0.2">I</text>
<line x1="476.2" y1="408.8" x2="476.2" y2="471.3" stroke="#1e1e1e" stroke-width="1.2"/>
<line x1="472.9" y1="470.8" x2="479.5" y2="470.8" stroke="#1e1e1e" stroke-width="1.2"/>
<text x="467.4" y="473.95" font-size="8.8" font-weight="700" text-anchor="end" fill="#1a1a1a" stroke="#1a1a1a" stroke-width="0.18">10</text>
<line x1="470.2" y1="455.43" x2="476.2" y2="455.43" stroke="#1e1e1e" stroke-width="1.2"/>
<text x="467.4" y="458.58" font-size="8.8" font-weight="700" text-anchor="end" fill="#1a1a1a" stroke="#1a1a1a" stroke-width="0.18">15</text>
<line x1="470.2" y1="440.05" x2="476.2" y2="440.05" stroke="#1e1e1e" stroke-width="1.2"/>
<text x="467.4" y="443.2" font-size="8.8" font-weight="700" text-anchor="end" fill="#1a1a1a" stroke="#1a1a1a" stroke-width="0.18">20</text>
<line x1="470.2" y1="424.68" x2="476.2" y2="424.68" stroke="#1e1e1e" stroke-width="1.2"/>
<text x="467.4" y="427.83" font-size="8.8" font-weight="700" text-anchor="end" fill="#1a1a1a" stroke="#1a1a1a" stroke-width="0.18">25</text>
<line x1="470.2" y1="409.3" x2="476.2" y2="409.3" stroke="#1e1e1e" stroke-width="1.2"/>
<text x="467.4" y="412.45" font-size="8.8" font-weight="700" text-anchor="end" fill="#1a1a1a" stroke="#1a1a1a" stroke-width="0.18">30</text>
<line x1="476.2" y1="480.4" x2="476.2" y2="542.6" stroke="#1e1e1e" stroke-width="1.2"/>
<line x1="470.2" y1="542.1" x2="476.2" y2="542.1" stroke="#1e1e1e" stroke-width="1.2"/>
<text x="467.4" y="545.25" font-size="8.8" font-weight="700" text-anchor="end" fill="#1a1a1a" stroke="#1a1a1a" stroke-width="0.18">0</text>
<line x1="470.2" y1="521.7" x2="476.2" y2="521.7" stroke="#1e1e1e" stroke-width="1.2"/>
<text x="467.4" y="524.85" font-size="8.8" font-weight="700" text-anchor="end" fill="#1a1a1a" stroke="#1a1a1a" stroke-width="0.18">2</text>
<line x1="470.2" y1="501.3" x2="476.2" y2="501.3" stroke="#1e1e1e" stroke-width="1.2"/>
<text x="467.4" y="504.45" font-size="8.8" font-weight="700" text-anchor="end" fill="#1a1a1a" stroke="#1a1a1a" stroke-width="0.18">4</text>
<line x1="472.9" y1="480.9" x2="479.5" y2="480.9" stroke="#1e1e1e" stroke-width="1.2"/>
<text x="467.4" y="484.05" font-size="8.8" font-weight="700" text-anchor="end" fill="#1a1a1a" stroke="#1a1a1a" stroke-width="0.18">6</text>
<line x1="475.7" y1="542.1" x2="675.5" y2="542.1" stroke="#1e1e1e" stroke-width="1.2"/>
<rect x="481.05" y="531.9" width="9.8" height="10.2" fill="#5ba3d1"/>
<line x1="485.95" y1="531.59" x2="485.95" y2="531.9" stroke="#1e1e1e" stroke-width="1"/>
<line x1="483.45" y1="531.59" x2="488.45" y2="531.59" stroke="#1e1e1e" stroke-width="1"/>
<rect x="495.65" y="480.9" width="9.8" height="61.2" fill="#a8354e"/>
<rect x="495.65" y="433.9" width="9.8" height="36.9" fill="#a8354e"/>
<line x1="500.55" y1="424.06" x2="500.55" y2="433.9" stroke="#1e1e1e" stroke-width="1"/>
<line x1="498.05" y1="424.06" x2="503.05" y2="424.06" stroke="#1e1e1e" stroke-width="1"/>
<rect x="510.05" y="480.9" width="9.8" height="61.2" fill="#a4d05c"/>
<rect x="510.05" y="460.04" width="9.8" height="10.76" fill="#a4d05c"/>
<line x1="514.95" y1="456.35" x2="514.95" y2="460.04" stroke="#1e1e1e" stroke-width="1"/>
<line x1="512.45" y1="456.35" x2="517.45" y2="456.35" stroke="#1e1e1e" stroke-width="1"/>
<rect x="524.95" y="497.22" width="9.8" height="44.88" fill="#94cfe3"/>
<line x1="529.85" y1="493.14" x2="529.85" y2="497.22" stroke="#1e1e1e" stroke-width="1"/>
<line x1="527.35" y1="493.14" x2="532.35" y2="493.14" stroke="#1e1e1e" stroke-width="1"/>
<rect x="549.2" y="531.9" width="9.8" height="10.2" fill="#5ba3d1"/>
<line x1="554.1" y1="531.9" x2="554.1" y2="531.9" stroke="#1e1e1e" stroke-width="1"/>
<line x1="551.6" y1="531.9" x2="556.6" y2="531.9" stroke="#1e1e1e" stroke-width="1"/>
<rect x="563.45" y="535.27" width="9.8" height="6.83" fill="#a8354e"/>
<line x1="568.35" y1="534.14" x2="568.35" y2="535.27" stroke="#1e1e1e" stroke-width="1"/>
<line x1="565.85" y1="534.14" x2="570.85" y2="534.14" stroke="#1e1e1e" stroke-width="1"/>
<rect x="578.05" y="525.78" width="9.8" height="16.32" fill="#a4d05c"/>
<line x1="582.95" y1="523.03" x2="582.95" y2="525.78" stroke="#1e1e1e" stroke-width="1"/>
<line x1="580.45" y1="523.03" x2="585.45" y2="523.03" stroke="#1e1e1e" stroke-width="1"/>
<rect x="592.7" y="528.33" width="9.8" height="13.77" fill="#94cfe3"/>
<line x1="597.6" y1="525.58" x2="597.6" y2="528.33" stroke="#1e1e1e" stroke-width="1"/>
<line x1="595.1" y1="525.58" x2="600.1" y2="525.58" stroke="#1e1e1e" stroke-width="1"/>
<rect x="616.9" y="531.9" width="9.8" height="10.2" fill="#5ba3d1"/>
<line x1="621.8" y1="531.7" x2="621.8" y2="531.9" stroke="#1e1e1e" stroke-width="1"/>
<line x1="619.3" y1="531.7" x2="624.3" y2="531.7" stroke="#1e1e1e" stroke-width="1"/>
<rect x="631.6" y="533.94" width="9.8" height="8.16" fill="#a8354e"/>
<line x1="636.5" y1="533.74" x2="636.5" y2="533.94" stroke="#1e1e1e" stroke-width="1"/>
<line x1="634" y1="533.74" x2="639" y2="533.74" stroke="#1e1e1e" stroke-width="1"/>
<rect x="646" y="531.49" width="9.8" height="10.61" fill="#a4d05c"/>
<line x1="650.9" y1="531.29" x2="650.9" y2="531.49" stroke="#1e1e1e" stroke-width="1"/>
<line x1="648.4" y1="531.29" x2="653.4" y2="531.29" stroke="#1e1e1e" stroke-width="1"/>
<rect x="660.75" y="516.6" width="9.8" height="25.5" fill="#94cfe3"/>
<line x1="665.65" y1="512.32" x2="665.65" y2="516.6" stroke="#1e1e1e" stroke-width="1"/>
<line x1="663.15" y1="512.32" x2="668.15" y2="512.32" stroke="#1e1e1e" stroke-width="1"/>
<line x1="507.6" y1="542.1" x2="507.6" y2="547.1" stroke="#1e1e1e" stroke-width="1.2"/>
<text x="507.6" y="557.11" font-size="9.8" font-weight="700" text-anchor="middle" fill="#1a1a1a" stroke="#1a1a1a" stroke-width="0.2">iNOS</text>
<line x1="575.6" y1="542.1" x2="575.6" y2="547.1" stroke="#1e1e1e" stroke-width="1.2"/>
<text x="575.6" y="557.11" font-size="9.8" font-weight="700" text-anchor="middle" fill="#1a1a1a" stroke="#1a1a1a" stroke-width="0.2">IL-10</text>
<line x1="643.3" y1="542.1" x2="643.3" y2="547.1" stroke="#1e1e1e" stroke-width="1.2"/>
<text x="643.3" y="557.11" font-size="9.8" font-weight="700" text-anchor="middle" fill="#1a1a1a" stroke="#1a1a1a" stroke-width="0.2">TGF-β</text>
<line x1="485.7" y1="420.7" x2="500.9" y2="420.7" stroke="#54463f" stroke-width="1.3"/>
<path d="M487.3 417.42L487.3 415.22M487.3 417.42L489.39 416.74M487.3 417.42L488.59 419.2M487.3 417.42L486.01 419.2M487.3 417.42L485.21 416.74M493 417.42L493 415.22M493 417.42L495.09 416.74M493 417.42L494.29 419.2M493 417.42L491.71 419.2M493 417.42L490.91 416.74M498.7 417.42L498.7 415.22M498.7 417.42L500.79 416.74M498.7 417.42L499.99 419.2M498.7 417.42L497.41 419.2M498.7 417.42L496.61 416.74" stroke="#161616" stroke-width="1.3" fill="none"/>
<line x1="500.9" y1="412.1" x2="514.6" y2="412.1" stroke="#54463f" stroke-width="1.3"/>
<path d="M508.3 408.82L508.3 406.62M508.3 408.82L510.39 408.14M508.3 408.82L509.59 410.6M508.3 408.82L507.01 410.6M508.3 408.82L506.21 408.14" stroke="#161616" stroke-width="1.3" fill="none"/>
<line x1="500.9" y1="404" x2="529.4" y2="404" stroke="#54463f" stroke-width="1.3"/>
<path d="M510.8 400.72L510.8 398.52M510.8 400.72L512.89 400.04M510.8 400.72L512.09 402.5M510.8 400.72L509.51 402.5M510.8 400.72L508.71 400.04M516.5 400.72L516.5 398.52M516.5 400.72L518.59 400.04M516.5 400.72L517.79 402.5M516.5 400.72L515.21 402.5M516.5 400.72L514.41 400.04M522.2 400.72L522.2 398.52M522.2 400.72L524.29 400.04M522.2 400.72L523.49 402.5M522.2 400.72L520.91 402.5M522.2 400.72L520.11 400.04" stroke="#161616" stroke-width="1.3" fill="none"/>
<line x1="554.4" y1="524.7" x2="568.2" y2="524.7" stroke="#54463f" stroke-width="1.3"/>
<path d="M561.8 521.42L561.8 519.22M561.8 521.42L563.89 520.74M561.8 521.42L563.09 523.2M561.8 521.42L560.51 523.2M561.8 521.42L559.71 520.74" stroke="#161616" stroke-width="1.3" fill="none"/>
<line x1="568.6" y1="517.3" x2="582.3" y2="517.3" stroke="#54463f" stroke-width="1.3"/>
<path d="M572.75 514.02L572.75 511.82M572.75 514.02L574.84 513.34M572.75 514.02L574.04 515.8M572.75 514.02L571.46 515.8M572.75 514.02L570.66 513.34M578.45 514.02L578.45 511.82M578.45 514.02L580.54 513.34M578.45 514.02L579.74 515.8M578.45 514.02L577.16 515.8M578.45 514.02L576.36 513.34" stroke="#161616" stroke-width="1.3" fill="none"/>
<line x1="568.6" y1="507.4" x2="597.2" y2="507.4" stroke="#54463f" stroke-width="1.3"/>
<path d="M580.55 504.12L580.55 501.92M580.55 504.12L582.64 503.44M580.55 504.12L581.84 505.9M580.55 504.12L579.26 505.9M580.55 504.12L578.46 503.44M586.25 504.12L586.25 501.92M586.25 504.12L588.34 503.44M586.25 504.12L587.54 505.9M586.25 504.12L584.96 505.9M586.25 504.12L584.16 503.44" stroke="#161616" stroke-width="1.3" fill="none"/>
<line x1="622.1" y1="525.8" x2="636.3" y2="525.8" stroke="#54463f" stroke-width="1.3"/>
<path d="M626.05 522.52L626.05 520.32M626.05 522.52L628.14 521.84M626.05 522.52L627.34 524.3M626.05 522.52L624.76 524.3M626.05 522.52L623.96 521.84M631.75 522.52L631.75 520.32M631.75 522.52L633.84 521.84M631.75 522.52L633.04 524.3M631.75 522.52L630.46 524.3M631.75 522.52L629.66 521.84" stroke="#161616" stroke-width="1.3" fill="none"/>
<line x1="636.3" y1="518.8" x2="650.5" y2="518.8" stroke="#54463f" stroke-width="1.3"/>
<path d="M636.25 515.52L636.25 513.32M636.25 515.52L638.34 514.84M636.25 515.52L637.54 517.3M636.25 515.52L634.96 517.3M636.25 515.52L634.16 514.84M641.95 515.52L641.95 513.32M641.95 515.52L644.04 514.84M641.95 515.52L643.24 517.3M641.95 515.52L640.66 517.3M641.95 515.52L639.86 514.84M647.65 515.52L647.65 513.32M647.65 515.52L649.74 514.84M647.65 515.52L648.94 517.3M647.65 515.52L646.36 517.3M647.65 515.52L645.56 514.84M653.35 515.52L653.35 513.32M653.35 515.52L655.44 514.84M653.35 515.52L654.64 517.3M653.35 515.52L652.06 517.3M653.35 515.52L651.26 514.84" stroke="#161616" stroke-width="1.3" fill="none"/>
<line x1="636.3" y1="509.3" x2="665.5" y2="509.3" stroke="#54463f" stroke-width="1.3"/>
<path d="M650.45 506.02L650.45 503.82M650.45 506.02L652.54 505.34M650.45 506.02L651.74 507.8M650.45 506.02L649.16 507.8M650.45 506.02L648.36 505.34M656.15 506.02L656.15 503.82M656.15 506.02L658.24 505.34M656.15 506.02L657.44 507.8M656.15 506.02L654.86 507.8M656.15 506.02L654.06 505.34" stroke="#161616" stroke-width="1.3" fill="none"/>
<text x="451.8" y="480.69" font-size="10.3" font-weight="700" text-anchor="middle" fill="#1a1a1a" transform="rotate(-90 451.8 477)" stroke="#1a1a1a" stroke-width="0.2">Relative mRNA expression</text>
<text x="602.5" y="427.39" font-size="8.9" font-weight="700" text-anchor="middle" fill="#1a1a1a" stroke="#1a1a1a" stroke-width="0.19">15% F-MuLV</text>
<text x="633.1" y="425.89" font-size="8.9" font-weight="700" text-anchor="middle" fill="#1a1a1a" stroke="#1a1a1a" stroke-width="0.19">-</text>
<text x="646.9" y="425.89" font-size="8.9" font-weight="700" text-anchor="middle" fill="#1a1a1a" stroke="#1a1a1a" stroke-width="0.19">+</text>
<text x="660.7" y="425.89" font-size="8.9" font-weight="700" text-anchor="middle" fill="#1a1a1a" stroke="#1a1a1a" stroke-width="0.19">+</text>
<text x="674.4" y="425.89" font-size="8.9" font-weight="700" text-anchor="middle" fill="#1a1a1a" stroke="#1a1a1a" stroke-width="0.19">+</text>
<text x="602.5" y="438.59" font-size="8.9" font-weight="700" text-anchor="middle" fill="#1a1a1a" stroke="#1a1a1a" stroke-width="0.19">Fludarabine</text>
<text x="633.1" y="437.09" font-size="8.9" font-weight="700" text-anchor="middle" fill="#1a1a1a" stroke="#1a1a1a" stroke-width="0.19">-</text>
<text x="646.9" y="437.09" font-size="8.9" font-weight="700" text-anchor="middle" fill="#1a1a1a" stroke="#1a1a1a" stroke-width="0.19">-</text>
<text x="660.7" y="437.09" font-size="8.9" font-weight="700" text-anchor="middle" fill="#1a1a1a" stroke="#1a1a1a" stroke-width="0.19">+</text>
<text x="674.4" y="437.09" font-size="8.9" font-weight="700" text-anchor="middle" fill="#1a1a1a" stroke="#1a1a1a" stroke-width="0.19">-</text>
<text x="602.5" y="449.59" font-size="8.9" font-weight="700" text-anchor="middle" fill="#1a1a1a" stroke="#1a1a1a" stroke-width="0.19">Rapamycin</text>
<text x="633.1" y="448.09" font-size="8.9" font-weight="700" text-anchor="middle" fill="#1a1a1a" stroke="#1a1a1a" stroke-width="0.19">-</text>
<text x="646.9" y="448.09" font-size="8.9" font-weight="700" text-anchor="middle" fill="#1a1a1a" stroke="#1a1a1a" stroke-width="0.19">-</text>
<text x="660.7" y="448.09" font-size="8.9" font-weight="700" text-anchor="middle" fill="#1a1a1a" stroke="#1a1a1a" stroke-width="0.19">-</text>
<text x="674.4" y="448.09" font-size="8.9" font-weight="700" text-anchor="middle" fill="#1a1a1a" stroke="#1a1a1a" stroke-width="0.19">+</text>
<rect x="626.8" y="450.6" width="13" height="6.4" fill="#5ba3d1"/>
<rect x="640.4" y="450.6" width="13" height="6.4" fill="#a8354e"/>
<rect x="654" y="450.6" width="13" height="6.4" fill="#a4d05c"/>
<rect x="667.6" y="450.6" width="13" height="6.4" fill="#94cfe3"/>
<text x="2.4" y="600.23" font-size="13.5" font-weight="700" text-anchor="start" fill="#1a1a1a" stroke="#1a1a1a" stroke-width="0.2">J</text>
<line x1="60.4" y1="604.6" x2="60.4" y2="746.9" stroke="#1e1e1e" stroke-width="1.2"/>
<line x1="54.4" y1="746.4" x2="60.4" y2="746.4" stroke="#1e1e1e" stroke-width="1.2"/>
<text x="52.4" y="749.98" font-size="10" font-weight="700" text-anchor="end" fill="#1a1a1a" stroke="#1a1a1a" stroke-width="0.2">0</text>
<line x1="54.4" y1="718.14" x2="60.4" y2="718.14" stroke="#1e1e1e" stroke-width="1.2"/>
<text x="52.4" y="721.72" font-size="10" font-weight="700" text-anchor="end" fill="#1a1a1a" stroke="#1a1a1a" stroke-width="0.2">10</text>
<line x1="54.4" y1="689.88" x2="60.4" y2="689.88" stroke="#1e1e1e" stroke-width="1.2"/>
<text x="52.4" y="693.46" font-size="10" font-weight="700" text-anchor="end" fill="#1a1a1a" stroke="#1a1a1a" stroke-width="0.2">20</text>
<line x1="54.4" y1="661.62" x2="60.4" y2="661.62" stroke="#1e1e1e" stroke-width="1.2"/>
<text x="52.4" y="665.2" font-size="10" font-weight="700" text-anchor="end" fill="#1a1a1a" stroke="#1a1a1a" stroke-width="0.2">30</text>
<line x1="54.4" y1="633.36" x2="60.4" y2="633.36" stroke="#1e1e1e" stroke-width="1.2"/>
<text x="52.4" y="636.94" font-size="10" font-weight="700" text-anchor="end" fill="#1a1a1a" stroke="#1a1a1a" stroke-width="0.2">40</text>
<line x1="54.4" y1="605.1" x2="60.4" y2="605.1" stroke="#1e1e1e" stroke-width="1.2"/>
<text x="52.4" y="608.68" font-size="10" font-weight="700" text-anchor="end" fill="#1a1a1a" stroke="#1a1a1a" stroke-width="0.2">50</text>
<line x1="59.9" y1="746.4" x2="154.2" y2="746.4" stroke="#1e1e1e" stroke-width="1.2"/>
<rect x="67.7" y="697.51" width="14.6" height="48.89" fill="#5ba3d1"/>
<line x1="75" y1="696.66" x2="75" y2="698.36" stroke="#1e1e1e" stroke-width="1.1"/>
<line x1="71.8" y1="698.36" x2="78.2" y2="698.36" stroke="#1e1e1e" stroke-width="1.1"/>
<line x1="71.8" y1="696.66" x2="78.2" y2="696.66" stroke="#1e1e1e" stroke-width="1.1"/>
<line x1="75" y1="746.4" x2="75" y2="751.9" stroke="#1e1e1e" stroke-width="1.2"/>
<rect x="89.2" y="617.82" width="14.6" height="128.58" fill="#a8354e"/>
<line x1="96.5" y1="615.7" x2="96.5" y2="619.94" stroke="#1e1e1e" stroke-width="1.1"/>
<line x1="93.3" y1="619.94" x2="99.7" y2="619.94" stroke="#1e1e1e" stroke-width="1.1"/>
<line x1="93.3" y1="615.7" x2="99.7" y2="615.7" stroke="#1e1e1e" stroke-width="1.1"/>
<line x1="96.5" y1="746.4" x2="96.5" y2="751.9" stroke="#1e1e1e" stroke-width="1.2"/>
<rect x="110.95" y="642.12" width="14.6" height="104.28" fill="#a4d05c"/>
<line x1="118.25" y1="638.87" x2="118.25" y2="645.37" stroke="#1e1e1e" stroke-width="1.1"/>
<line x1="115.05" y1="645.37" x2="121.45" y2="645.37" stroke="#1e1e1e" stroke-width="1.1"/>
<line x1="115.05" y1="638.87" x2="121.45" y2="638.87" stroke="#1e1e1e" stroke-width="1.1"/>
<line x1="118.25" y1="746.4" x2="118.25" y2="751.9" stroke="#1e1e1e" stroke-width="1.2"/>
<rect x="132.8" y="654.55" width="14.6" height="91.85" fill="#94cfe3"/>
<line x1="140.1" y1="653.28" x2="140.1" y2="655.83" stroke="#1e1e1e" stroke-width="1.1"/>
<line x1="136.9" y1="655.83" x2="143.3" y2="655.83" stroke="#1e1e1e" stroke-width="1.1"/>
<line x1="136.9" y1="653.28" x2="143.3" y2="653.28" stroke="#1e1e1e" stroke-width="1.1"/>
<line x1="140.1" y1="746.4" x2="140.1" y2="751.9" stroke="#1e1e1e" stroke-width="1.2"/>
<line x1="75" y1="611.5" x2="96.4" y2="611.5" stroke="#54463f" stroke-width="1.3"/>
<path d="M77.25 607.82L77.25 605.62M77.25 607.82L79.34 607.14M77.25 607.82L78.54 609.6M77.25 607.82L75.96 609.6M77.25 607.82L75.16 607.14M83.15 607.82L83.15 605.62M83.15 607.82L85.24 607.14M83.15 607.82L84.44 609.6M83.15 607.82L81.86 609.6M83.15 607.82L81.06 607.14M89.05 607.82L89.05 605.62M89.05 607.82L91.14 607.14M89.05 607.82L90.34 609.6M89.05 607.82L87.76 609.6M89.05 607.82L86.96 607.14M94.95 607.82L94.95 605.62M94.95 607.82L97.04 607.14M94.95 607.82L96.24 609.6M94.95 607.82L93.66 609.6M94.95 607.82L92.86 607.14" stroke="#161616" stroke-width="1.3" fill="none"/>
<line x1="96.4" y1="603.6" x2="118.2" y2="603.6" stroke="#54463f" stroke-width="1.3"/>
<path d="M100.7 599.92L100.7 597.72M100.7 599.92L102.79 599.24M100.7 599.92L101.99 601.7M100.7 599.92L99.41 601.7M100.7 599.92L98.61 599.24M106.6 599.92L106.6 597.72M106.6 599.92L108.69 599.24M106.6 599.92L107.89 601.7M106.6 599.92L105.31 601.7M106.6 599.92L104.51 599.24M112.5 599.92L112.5 597.72M112.5 599.92L114.59 599.24M112.5 599.92L113.79 601.7M112.5 599.92L111.21 601.7M112.5 599.92L110.41 599.24" stroke="#161616" stroke-width="1.3" fill="none"/>
<line x1="96.4" y1="594.6" x2="140.1" y2="594.6" stroke="#54463f" stroke-width="1.3"/>
<path d="M109.35 590.92L109.35 588.72M109.35 590.92L111.44 590.24M109.35 590.92L110.64 592.7M109.35 590.92L108.06 592.7M109.35 590.92L107.26 590.24M115.25 590.92L115.25 588.72M115.25 590.92L117.34 590.24M115.25 590.92L116.54 592.7M115.25 590.92L113.96 592.7M115.25 590.92L113.16 590.24M121.15 590.92L121.15 588.72M121.15 590.92L123.24 590.24M121.15 590.92L122.44 592.7M121.15 590.92L119.86 592.7M121.15 590.92L119.06 590.24M127.05 590.92L127.05 588.72M127.05 590.92L129.14 590.24M127.05 590.92L128.34 592.7M127.05 590.92L125.76 592.7M127.05 590.92L124.96 590.24" stroke="#161616" stroke-width="1.3" fill="none"/>
<text x="17.2" y="679.38" font-size="10.55" font-weight="700" text-anchor="middle" fill="#1a1a1a" transform="rotate(-90 17.2 675.6)" stroke="#1a1a1a" stroke-width="0.2">Relative Extracellular</text>
<text x="29.2" y="679.78" font-size="10.55" font-weight="700" text-anchor="middle" fill="#1a1a1a" transform="rotate(-90 29.2 676)" stroke="#1a1a1a" stroke-width="0.2">lactate levels</text>
<text x="39.6" y="761.9" font-size="8.65" font-weight="700" text-anchor="middle" fill="#1a1a1a" stroke="#1a1a1a" stroke-width="0.17">15% F-MuLV</text>
<text x="75" y="761.9" font-size="8.65" font-weight="700" text-anchor="middle" fill="#1a1a1a" stroke="#1a1a1a" stroke-width="0.17">-</text>
<text x="96.5" y="761.9" font-size="8.65" font-weight="700" text-anchor="middle" fill="#1a1a1a" stroke="#1a1a1a" stroke-width="0.17">+</text>
<text x="118.25" y="761.9" font-size="8.65" font-weight="700" text-anchor="middle" fill="#1a1a1a" stroke="#1a1a1a" stroke-width="0.17">+</text>
<text x="140.1" y="761.9" font-size="8.65" font-weight="700" text-anchor="middle" fill="#1a1a1a" stroke="#1a1a1a" stroke-width="0.17">+</text>
<text x="39.6" y="772.7" font-size="8.65" font-weight="700" text-anchor="middle" fill="#1a1a1a" stroke="#1a1a1a" stroke-width="0.17">Fludarabine</text>
<text x="75" y="772.7" font-size="8.65" font-weight="700" text-anchor="middle" fill="#1a1a1a" stroke="#1a1a1a" stroke-width="0.17">-</text>
<text x="96.5" y="772.7" font-size="8.65" font-weight="700" text-anchor="middle" fill="#1a1a1a" stroke="#1a1a1a" stroke-width="0.17">-</text>
<text x="118.25" y="772.7" font-size="8.65" font-weight="700" text-anchor="middle" fill="#1a1a1a" stroke="#1a1a1a" stroke-width="0.17">+</text>
<text x="140.1" y="772.7" font-size="8.65" font-weight="700" text-anchor="middle" fill="#1a1a1a" stroke="#1a1a1a" stroke-width="0.17">-</text>
<text x="39.6" y="783.5" font-size="8.65" font-weight="700" text-anchor="middle" fill="#1a1a1a" stroke="#1a1a1a" stroke-width="0.17">Rapamycin</text>
<text x="75" y="783.5" font-size="8.65" font-weight="700" text-anchor="middle" fill="#1a1a1a" stroke="#1a1a1a" stroke-width="0.17">-</text>
<text x="96.5" y="783.5" font-size="8.65" font-weight="700" text-anchor="middle" fill="#1a1a1a" stroke="#1a1a1a" stroke-width="0.17">-</text>
<text x="118.25" y="783.5" font-size="8.65" font-weight="700" text-anchor="middle" fill="#1a1a1a" stroke="#1a1a1a" stroke-width="0.17">-</text>
<text x="140.1" y="783.5" font-size="8.65" font-weight="700" text-anchor="middle" fill="#1a1a1a" stroke="#1a1a1a" stroke-width="0.17">+</text>
<text x="202.5" y="600.63" font-size="13.5" font-weight="700" text-anchor="start" fill="#1a1a1a" stroke="#1a1a1a" stroke-width="0.2">K</text>
<line x1="263.9" y1="608.97" x2="263.9" y2="749.8" stroke="#1e1e1e" stroke-width="1.2"/>
<line x1="257.9" y1="749.3" x2="263.9" y2="749.3" stroke="#1e1e1e" stroke-width="1.2"/>
<text x="255.9" y="752.84" font-size="9.9" font-weight="700" text-anchor="end" fill="#1a1a1a" stroke="#1a1a1a" stroke-width="0.2">0</text>
<line x1="257.9" y1="721.33" x2="263.9" y2="721.33" stroke="#1e1e1e" stroke-width="1.2"/>
<text x="255.9" y="724.88" font-size="9.9" font-weight="700" text-anchor="end" fill="#1a1a1a" stroke="#1a1a1a" stroke-width="0.2">50</text>
<line x1="257.9" y1="693.37" x2="263.9" y2="693.37" stroke="#1e1e1e" stroke-width="1.2"/>
<text x="255.9" y="696.91" font-size="9.9" font-weight="700" text-anchor="end" fill="#1a1a1a" stroke="#1a1a1a" stroke-width="0.2">100</text>
<line x1="257.9" y1="665.4" x2="263.9" y2="665.4" stroke="#1e1e1e" stroke-width="1.2"/>
<text x="255.9" y="668.95" font-size="9.9" font-weight="700" text-anchor="end" fill="#1a1a1a" stroke="#1a1a1a" stroke-width="0.2">150</text>
<line x1="257.9" y1="637.44" x2="263.9" y2="637.44" stroke="#1e1e1e" stroke-width="1.2"/>
<text x="255.9" y="640.98" font-size="9.9" font-weight="700" text-anchor="end" fill="#1a1a1a" stroke="#1a1a1a" stroke-width="0.2">200</text>
<line x1="257.9" y1="609.47" x2="263.9" y2="609.47" stroke="#1e1e1e" stroke-width="1.2"/>
<text x="255.9" y="613.02" font-size="9.9" font-weight="700" text-anchor="end" fill="#1a1a1a" stroke="#1a1a1a" stroke-width="0.2">250</text>
<line x1="263.4" y1="749.3" x2="356.4" y2="749.3" stroke="#1e1e1e" stroke-width="1.2"/>
<rect x="271.05" y="625.14" width="14.3" height="124.16" fill="#5ba3d1"/>
<line x1="278.2" y1="622.79" x2="278.2" y2="627.48" stroke="#1e1e1e" stroke-width="1.1"/>
<line x1="275" y1="627.48" x2="281.4" y2="627.48" stroke="#1e1e1e" stroke-width="1.1"/>
<line x1="275" y1="622.79" x2="281.4" y2="622.79" stroke="#1e1e1e" stroke-width="1.1"/>
<line x1="278.2" y1="749.3" x2="278.2" y2="754.8" stroke="#1e1e1e" stroke-width="1.2"/>
<rect x="292.35" y="677.82" width="14.3" height="71.48" fill="#a8354e"/>
<line x1="299.5" y1="676.26" x2="299.5" y2="679.39" stroke="#1e1e1e" stroke-width="1.1"/>
<line x1="296.3" y1="679.39" x2="302.7" y2="679.39" stroke="#1e1e1e" stroke-width="1.1"/>
<line x1="296.3" y1="676.26" x2="302.7" y2="676.26" stroke="#1e1e1e" stroke-width="1.1"/>
<line x1="299.5" y1="749.3" x2="299.5" y2="754.8" stroke="#1e1e1e" stroke-width="1.2"/>
<rect x="313.95" y="648.29" width="14.3" height="101.01" fill="#a4d05c"/>
<line x1="321.1" y1="647.28" x2="321.1" y2="649.3" stroke="#1e1e1e" stroke-width="1.1"/>
<line x1="317.9" y1="649.3" x2="324.3" y2="649.3" stroke="#1e1e1e" stroke-width="1.1"/>
<line x1="317.9" y1="647.28" x2="324.3" y2="647.28" stroke="#1e1e1e" stroke-width="1.1"/>
<line x1="321.1" y1="749.3" x2="321.1" y2="754.8" stroke="#1e1e1e" stroke-width="1.2"/>
<rect x="335.25" y="656.79" width="14.3" height="92.51" fill="#94cfe3"/>
<line x1="342.4" y1="655.23" x2="342.4" y2="658.36" stroke="#1e1e1e" stroke-width="1.1"/>
<line x1="339.2" y1="658.36" x2="345.6" y2="658.36" stroke="#1e1e1e" stroke-width="1.1"/>
<line x1="339.2" y1="655.23" x2="345.6" y2="655.23" stroke="#1e1e1e" stroke-width="1.1"/>
<line x1="342.4" y1="749.3" x2="342.4" y2="754.8" stroke="#1e1e1e" stroke-width="1.2"/>
<line x1="277.6" y1="618.2" x2="298.9" y2="618.2" stroke="#54463f" stroke-width="1.3"/>
<path d="M280.45 614.52L280.45 612.32M280.45 614.52L282.54 613.84M280.45 614.52L281.74 616.3M280.45 614.52L279.16 616.3M280.45 614.52L278.36 613.84M286.35 614.52L286.35 612.32M286.35 614.52L288.44 613.84M286.35 614.52L287.64 616.3M286.35 614.52L285.06 616.3M286.35 614.52L284.26 613.84M292.25 614.52L292.25 612.32M292.25 614.52L294.34 613.84M292.25 614.52L293.54 616.3M292.25 614.52L290.96 616.3M292.25 614.52L290.16 613.84M298.15 614.52L298.15 612.32M298.15 614.52L300.24 613.84M298.15 614.52L299.44 616.3M298.15 614.52L296.86 616.3M298.15 614.52L296.06 613.84" stroke="#161616" stroke-width="1.3" fill="none"/>
<line x1="298.9" y1="611.5" x2="320.5" y2="611.5" stroke="#54463f" stroke-width="1.3"/>
<path d="M300.85 607.82L300.85 605.62M300.85 607.82L302.94 607.14M300.85 607.82L302.14 609.6M300.85 607.82L299.56 609.6M300.85 607.82L298.76 607.14M306.75 607.82L306.75 605.62M306.75 607.82L308.84 607.14M306.75 607.82L308.04 609.6M306.75 607.82L305.46 609.6M306.75 607.82L304.66 607.14M312.65 607.82L312.65 605.62M312.65 607.82L314.74 607.14M312.65 607.82L313.94 609.6M312.65 607.82L311.36 609.6M312.65 607.82L310.56 607.14M318.55 607.82L318.55 605.62M318.55 607.82L320.64 607.14M318.55 607.82L319.84 609.6M318.55 607.82L317.26 609.6M318.55 607.82L316.46 607.14" stroke="#161616" stroke-width="1.3" fill="none"/>
<line x1="298.9" y1="603.3" x2="341.8" y2="603.3" stroke="#54463f" stroke-width="1.3"/>
<path d="M312.55 599.62L312.55 597.42M312.55 599.62L314.64 598.94M312.55 599.62L313.84 601.4M312.55 599.62L311.26 601.4M312.55 599.62L310.46 598.94M318.45 599.62L318.45 597.42M318.45 599.62L320.54 598.94M318.45 599.62L319.74 601.4M318.45 599.62L317.16 601.4M318.45 599.62L316.36 598.94M324.35 599.62L324.35 597.42M324.35 599.62L326.44 598.94M324.35 599.62L325.64 601.4M324.35 599.62L323.06 601.4M324.35 599.62L322.26 598.94M330.25 599.62L330.25 597.42M330.25 599.62L332.34 598.94M330.25 599.62L331.54 601.4M330.25 599.62L328.96 601.4M330.25 599.62L328.16 598.94" stroke="#161616" stroke-width="1.3" fill="none"/>
<text x="214.8" y="683.16" font-size="10.5" font-weight="700" text-anchor="middle" fill="#1a1a1a" transform="rotate(-90 214.8 679.4)" stroke="#1a1a1a" stroke-width="0.2">Relative Extracellular</text>
<text x="228" y="683.16" font-size="10.5" font-weight="700" text-anchor="middle" fill="#1a1a1a" transform="rotate(-90 228 679.4)" stroke="#1a1a1a" stroke-width="0.2">glucose levels</text>
<text x="246.3" y="763.26" font-size="8" font-weight="700" text-anchor="middle" fill="#1a1a1a" stroke="#1a1a1a" stroke-width="0.1">15% F-MuLV</text>
<text x="278.2" y="763.26" font-size="8" font-weight="700" text-anchor="middle" fill="#1a1a1a" stroke="#1a1a1a" stroke-width="0.1">-</text>
<text x="299.5" y="763.26" font-size="8" font-weight="700" text-anchor="middle" fill="#1a1a1a" stroke="#1a1a1a" stroke-width="0.1">+</text>
<text x="321.1" y="763.26" font-size="8" font-weight="700" text-anchor="middle" fill="#1a1a1a" stroke="#1a1a1a" stroke-width="0.1">+</text>
<text x="342.4" y="763.26" font-size="8" font-weight="700" text-anchor="middle" fill="#1a1a1a" stroke="#1a1a1a" stroke-width="0.1">+</text>
<text x="246.3" y="773.46" font-size="8" font-weight="700" text-anchor="middle" fill="#1a1a1a" stroke="#1a1a1a" stroke-width="0.1">Fludarabine</text>
<text x="278.2" y="773.46" font-size="8" font-weight="700" text-anchor="middle" fill="#1a1a1a" stroke="#1a1a1a" stroke-width="0.1">-</text>
<text x="299.5" y="773.46" font-size="8" font-weight="700" text-anchor="middle" fill="#1a1a1a" stroke="#1a1a1a" stroke-width="0.1">-</text>
<text x="321.1" y="773.46" font-size="8" font-weight="700" text-anchor="middle" fill="#1a1a1a" stroke="#1a1a1a" stroke-width="0.1">+</text>
<text x="342.4" y="773.46" font-size="8" font-weight="700" text-anchor="middle" fill="#1a1a1a" stroke="#1a1a1a" stroke-width="0.1">-</text>
<text x="246.3" y="783.66" font-size="8" font-weight="700" text-anchor="middle" fill="#1a1a1a" stroke="#1a1a1a" stroke-width="0.1">Rapamycin</text>
<text x="278.2" y="783.66" font-size="8" font-weight="700" text-anchor="middle" fill="#1a1a1a" stroke="#1a1a1a" stroke-width="0.1">-</text>
<text x="299.5" y="783.66" font-size="8" font-weight="700" text-anchor="middle" fill="#1a1a1a" stroke="#1a1a1a" stroke-width="0.1">-</text>
<text x="321.1" y="783.66" font-size="8" font-weight="700" text-anchor="middle" fill="#1a1a1a" stroke="#1a1a1a" stroke-width="0.1">-</text>
<text x="342.4" y="783.66" font-size="8" font-weight="700" text-anchor="middle" fill="#1a1a1a" stroke="#1a1a1a" stroke-width="0.1">+</text>
<text x="387.7" y="600.33" font-size="13.5" font-weight="700" text-anchor="start" fill="#1a1a1a" stroke="#1a1a1a" stroke-width="0.2">L</text>
<line x1="428.8" y1="605.8" x2="428.8" y2="669.2" stroke="#1e1e1e" stroke-width="1.2"/>
<line x1="425.5" y1="668.7" x2="432.1" y2="668.7" stroke="#1e1e1e" stroke-width="1.2"/>
<text x="421.3" y="671.92" font-size="9" font-weight="700" text-anchor="end" fill="#1a1a1a" stroke="#1a1a1a" stroke-width="0.2">20</text>
<line x1="423.3" y1="653.1" x2="428.8" y2="653.1" stroke="#1e1e1e" stroke-width="1.2"/>
<text x="421.3" y="656.32" font-size="9" font-weight="700" text-anchor="end" fill="#1a1a1a" stroke="#1a1a1a" stroke-width="0.2">25</text>
<line x1="423.3" y1="637.5" x2="428.8" y2="637.5" stroke="#1e1e1e" stroke-width="1.2"/>
<text x="421.3" y="640.72" font-size="9" font-weight="700" text-anchor="end" fill="#1a1a1a" stroke="#1a1a1a" stroke-width="0.2">30</text>
<line x1="423.3" y1="621.9" x2="428.8" y2="621.9" stroke="#1e1e1e" stroke-width="1.2"/>
<text x="421.3" y="625.12" font-size="9" font-weight="700" text-anchor="end" fill="#1a1a1a" stroke="#1a1a1a" stroke-width="0.2">35</text>
<line x1="423.3" y1="606.3" x2="428.8" y2="606.3" stroke="#1e1e1e" stroke-width="1.2"/>
<text x="421.3" y="609.52" font-size="9" font-weight="700" text-anchor="end" fill="#1a1a1a" stroke="#1a1a1a" stroke-width="0.2">40</text>
<line x1="428.8" y1="678.5" x2="428.8" y2="741.9" stroke="#1e1e1e" stroke-width="1.2"/>
<line x1="423.3" y1="741.4" x2="428.8" y2="741.4" stroke="#1e1e1e" stroke-width="1.2"/>
<text x="421.3" y="744.62" font-size="9" font-weight="700" text-anchor="end" fill="#1a1a1a" stroke="#1a1a1a" stroke-width="0.2">0.0</text>
<line x1="423.3" y1="725.8" x2="428.8" y2="725.8" stroke="#1e1e1e" stroke-width="1.2"/>
<text x="421.3" y="729.02" font-size="9" font-weight="700" text-anchor="end" fill="#1a1a1a" stroke="#1a1a1a" stroke-width="0.2">0.5</text>
<line x1="423.3" y1="710.2" x2="428.8" y2="710.2" stroke="#1e1e1e" stroke-width="1.2"/>
<text x="421.3" y="713.42" font-size="9" font-weight="700" text-anchor="end" fill="#1a1a1a" stroke="#1a1a1a" stroke-width="0.2">1.0</text>
<line x1="423.3" y1="694.6" x2="428.8" y2="694.6" stroke="#1e1e1e" stroke-width="1.2"/>
<text x="421.3" y="697.82" font-size="9" font-weight="700" text-anchor="end" fill="#1a1a1a" stroke="#1a1a1a" stroke-width="0.2">1.5</text>
<line x1="425.5" y1="679" x2="432.1" y2="679" stroke="#1e1e1e" stroke-width="1.2"/>
<text x="421.3" y="682.22" font-size="9" font-weight="700" text-anchor="end" fill="#1a1a1a" stroke="#1a1a1a" stroke-width="0.2">2.0</text>
<line x1="428.3" y1="741.4" x2="631.4" y2="741.4" stroke="#1e1e1e" stroke-width="1.2"/>
<rect x="438.25" y="710.2" width="19.4" height="31.2" fill="#5ba3d1"/>
<line x1="447.95" y1="709.58" x2="447.95" y2="710.2" stroke="#1e1e1e" stroke-width="1"/>
<line x1="443.95" y1="709.58" x2="451.95" y2="709.58" stroke="#1e1e1e" stroke-width="1"/>
<rect x="467.05" y="679" width="19.4" height="62.4" fill="#d6bc48"/>
<rect x="467.05" y="617.22" width="19.4" height="51.48" fill="#d6bc48"/>
<line x1="476.75" y1="614.41" x2="476.75" y2="617.22" stroke="#1e1e1e" stroke-width="1"/>
<line x1="472.75" y1="614.41" x2="480.75" y2="614.41" stroke="#1e1e1e" stroke-width="1"/>
<rect x="495.95" y="688.98" width="19.4" height="52.42" fill="#a4d05c"/>
<line x1="505.65" y1="682.74" x2="505.65" y2="688.98" stroke="#1e1e1e" stroke-width="1"/>
<line x1="501.65" y1="682.74" x2="509.65" y2="682.74" stroke="#1e1e1e" stroke-width="1"/>
<rect x="544.4" y="710.2" width="19.4" height="31.2" fill="#5ba3d1"/>
<line x1="554.1" y1="709.89" x2="554.1" y2="710.2" stroke="#1e1e1e" stroke-width="1"/>
<line x1="550.1" y1="709.89" x2="558.1" y2="709.89" stroke="#1e1e1e" stroke-width="1"/>
<rect x="573.15" y="728.3" width="19.4" height="13.1" fill="#d6bc48"/>
<line x1="582.85" y1="727.05" x2="582.85" y2="728.3" stroke="#1e1e1e" stroke-width="1"/>
<line x1="578.85" y1="727.05" x2="586.85" y2="727.05" stroke="#1e1e1e" stroke-width="1"/>
<rect x="602.1" y="719.87" width="19.4" height="21.53" fill="#a4d05c"/>
<line x1="611.8" y1="718.31" x2="611.8" y2="719.87" stroke="#1e1e1e" stroke-width="1"/>
<line x1="607.8" y1="718.31" x2="615.8" y2="718.31" stroke="#1e1e1e" stroke-width="1"/>
<line x1="476.5" y1="741.4" x2="476.5" y2="746.4" stroke="#1e1e1e" stroke-width="1.2"/>
<text x="476.5" y="757.54" font-size="9.9" font-weight="700" text-anchor="middle" fill="#1a1a1a" stroke="#1a1a1a" stroke-width="0.2">iNOS</text>
<line x1="582.7" y1="741.4" x2="582.7" y2="746.4" stroke="#1e1e1e" stroke-width="1.2"/>
<text x="582.7" y="757.54" font-size="9.9" font-weight="700" text-anchor="middle" fill="#1a1a1a" stroke="#1a1a1a" stroke-width="0.2">IL-10</text>
<line x1="447.4" y1="608.5" x2="475.9" y2="608.5" stroke="#54463f" stroke-width="1.3"/>
<path d="M453.7 604.83L453.7 602.53M453.7 604.83L455.89 604.12M453.7 604.83L455.05 606.69M453.7 604.83L452.35 606.69M453.7 604.83L451.51 604.12M459.7 604.83L459.7 602.53M459.7 604.83L461.89 604.12M459.7 604.83L461.05 606.69M459.7 604.83L458.35 606.69M459.7 604.83L457.51 604.12M465.7 604.83L465.7 602.53M465.7 604.83L467.89 604.12M465.7 604.83L467.05 606.69M465.7 604.83L464.35 606.69M465.7 604.83L463.51 604.12M471.7 604.83L471.7 602.53M471.7 604.83L473.89 604.12M471.7 604.83L473.05 606.69M471.7 604.83L470.35 606.69M471.7 604.83L469.51 604.12" stroke="#161616" stroke-width="1.3" fill="none"/>
<line x1="475.9" y1="598.6" x2="505.4" y2="598.6" stroke="#54463f" stroke-width="1.3"/>
<path d="M483.3 594.93L483.3 592.63M483.3 594.93L485.49 594.22M483.3 594.93L484.65 596.79M483.3 594.93L481.95 596.79M483.3 594.93L481.11 594.22M489.3 594.93L489.3 592.63M489.3 594.93L491.49 594.22M489.3 594.93L490.65 596.79M489.3 594.93L487.95 596.79M489.3 594.93L487.11 594.22M495.3 594.93L495.3 592.63M495.3 594.93L497.49 594.22M495.3 594.93L496.65 596.79M495.3 594.93L493.95 596.79M495.3 594.93L493.11 594.22M501.3 594.93L501.3 592.63M501.3 594.93L503.49 594.22M501.3 594.93L502.65 596.79M501.3 594.93L499.95 596.79M501.3 594.93L499.11 594.22" stroke="#161616" stroke-width="1.3" fill="none"/>
<line x1="554.2" y1="699.9" x2="582.7" y2="699.9" stroke="#54463f" stroke-width="1.3"/>
<path d="M559 696.23L559 693.93M559 696.23L561.19 695.52M559 696.23L560.35 698.09M559 696.23L557.65 698.09M559 696.23L556.81 695.52M565 696.23L565 693.93M565 696.23L567.19 695.52M565 696.23L566.35 698.09M565 696.23L563.65 698.09M565 696.23L562.81 695.52M571 696.23L571 693.93M571 696.23L573.19 695.52M571 696.23L572.35 698.09M571 696.23L569.65 698.09M571 696.23L568.81 695.52M577 696.23L577 693.93M577 696.23L579.19 695.52M577 696.23L578.35 698.09M577 696.23L575.65 698.09M577 696.23L574.81 695.52" stroke="#161616" stroke-width="1.3" fill="none"/>
<line x1="582.7" y1="691.3" x2="611.5" y2="691.3" stroke="#54463f" stroke-width="1.3"/>
<path d="M594.9 687.63L594.9 685.33M594.9 687.63L597.09 686.92M594.9 687.63L596.25 689.49M594.9 687.63L593.55 689.49M594.9 687.63L592.71 686.92M600.9 687.63L600.9 685.33M600.9 687.63L603.09 686.92M600.9 687.63L602.25 689.49M600.9 687.63L599.55 689.49M600.9 687.63L598.71 686.92" stroke="#161616" stroke-width="1.3" fill="none"/>
<text x="399.4" y="678.21" font-size="11.2" font-weight="700" text-anchor="middle" fill="#1a1a1a" transform="rotate(-90 399.4 674.2)" stroke="#1a1a1a" stroke-width="0.2">Relative mRNA expression</text>
<text x="550.3" y="614.29" font-size="9.2" font-weight="700" text-anchor="middle" fill="#1a1a1a" stroke="#1a1a1a" stroke-width="0.2">20 mM Nala</text>
<text x="550.3" y="625.19" font-size="9.2" font-weight="700" text-anchor="middle" fill="#1a1a1a" stroke="#1a1a1a" stroke-width="0.2">20 mM Oxamate</text>
<text x="592.7" y="613.79" font-size="9.2" font-weight="700" text-anchor="middle" fill="#1a1a1a" stroke="#1a1a1a" stroke-width="0.2">-</text>
<text x="592.7" y="624.69" font-size="9.2" font-weight="700" text-anchor="middle" fill="#1a1a1a" stroke="#1a1a1a" stroke-width="0.2">-</text>
<text x="608.1" y="613.79" font-size="9.2" font-weight="700" text-anchor="middle" fill="#1a1a1a" stroke="#1a1a1a" stroke-width="0.2">+</text>
<text x="608.1" y="624.69" font-size="9.2" font-weight="700" text-anchor="middle" fill="#1a1a1a" stroke="#1a1a1a" stroke-width="0.2">-</text>
<text x="623.2" y="613.79" font-size="9.2" font-weight="700" text-anchor="middle" fill="#1a1a1a" stroke="#1a1a1a" stroke-width="0.2">+</text>
<text x="623.2" y="624.69" font-size="9.2" font-weight="700" text-anchor="middle" fill="#1a1a1a" stroke="#1a1a1a" stroke-width="0.2">+</text>
<rect x="586.1" y="626" width="13.1" height="6.5" fill="#5ba3d1"/>
<rect x="601" y="626" width="13.2" height="6.5" fill="#d6bc48"/>
<rect x="616" y="626" width="13.6" height="6.5" fill="#a4d05c"/>
<text x="1.4" y="807.13" font-size="13.5" font-weight="700" text-anchor="start" fill="#1a1a1a" stroke="#1a1a1a" stroke-width="0.2">M</text>
<line x1="60.7" y1="799.08" x2="60.7" y2="921.6" stroke="#1e1e1e" stroke-width="1.2"/>
<line x1="55.7" y1="921.1" x2="60.7" y2="921.1" stroke="#1e1e1e" stroke-width="1.2"/>
<text x="53.7" y="924.25" font-size="8.8" font-weight="700" text-anchor="end" fill="#1a1a1a" stroke="#1a1a1a" stroke-width="0.18">0</text>
<line x1="55.7" y1="890.72" x2="60.7" y2="890.72" stroke="#1e1e1e" stroke-width="1.2"/>
<text x="53.7" y="893.87" font-size="8.8" font-weight="700" text-anchor="end" fill="#1a1a1a" stroke="#1a1a1a" stroke-width="0.18">20</text>
<line x1="55.7" y1="860.34" x2="60.7" y2="860.34" stroke="#1e1e1e" stroke-width="1.2"/>
<text x="53.7" y="863.49" font-size="8.8" font-weight="700" text-anchor="end" fill="#1a1a1a" stroke="#1a1a1a" stroke-width="0.18">40</text>
<line x1="55.7" y1="829.96" x2="60.7" y2="829.96" stroke="#1e1e1e" stroke-width="1.2"/>
<text x="53.7" y="833.11" font-size="8.8" font-weight="700" text-anchor="end" fill="#1a1a1a" stroke="#1a1a1a" stroke-width="0.18">60</text>
<line x1="55.7" y1="799.58" x2="60.7" y2="799.58" stroke="#1e1e1e" stroke-width="1.2"/>
<text x="53.7" y="802.73" font-size="8.8" font-weight="700" text-anchor="end" fill="#1a1a1a" stroke="#1a1a1a" stroke-width="0.18">80</text>
<line x1="60.2" y1="921.1" x2="142.2" y2="921.1" stroke="#1e1e1e" stroke-width="1.2"/>
<rect x="69.25" y="904.09" width="16" height="17.01" fill="#5ba3d1"/>
<line x1="77.25" y1="903.48" x2="77.25" y2="904.69" stroke="#1e1e1e" stroke-width="1.1"/>
<line x1="73.65" y1="904.69" x2="80.85" y2="904.69" stroke="#1e1e1e" stroke-width="1.1"/>
<line x1="73.65" y1="903.48" x2="80.85" y2="903.48" stroke="#1e1e1e" stroke-width="1.1"/>
<line x1="77.25" y1="921.1" x2="77.25" y2="926.6" stroke="#1e1e1e" stroke-width="1.2"/>
<rect x="93.45" y="815.68" width="16" height="105.42" fill="#d6bc48"/>
<line x1="101.45" y1="814.92" x2="101.45" y2="816.44" stroke="#1e1e1e" stroke-width="1.1"/>
<line x1="97.85" y1="816.44" x2="105.05" y2="816.44" stroke="#1e1e1e" stroke-width="1.1"/>
<line x1="97.85" y1="814.92" x2="105.05" y2="814.92" stroke="#1e1e1e" stroke-width="1.1"/>
<line x1="101.45" y1="921.1" x2="101.45" y2="926.6" stroke="#1e1e1e" stroke-width="1.2"/>
<rect x="117.7" y="849.86" width="16" height="71.24" fill="#a4d05c"/>
<line x1="125.7" y1="849.1" x2="125.7" y2="850.62" stroke="#1e1e1e" stroke-width="1.1"/>
<line x1="122.1" y1="850.62" x2="129.3" y2="850.62" stroke="#1e1e1e" stroke-width="1.1"/>
<line x1="122.1" y1="849.1" x2="129.3" y2="849.1" stroke="#1e1e1e" stroke-width="1.1"/>
<line x1="125.7" y1="921.1" x2="125.7" y2="926.6" stroke="#1e1e1e" stroke-width="1.2"/>
<line x1="76.5" y1="812.7" x2="100.7" y2="812.7" stroke="#54463f" stroke-width="1.3"/>
<path d="M78.75 807.44L78.75 805.04M78.75 807.44L81.03 806.7M78.75 807.44L80.16 809.38M78.75 807.44L77.34 809.38M78.75 807.44L76.47 806.7M85.25 807.44L85.25 805.04M85.25 807.44L87.53 806.7M85.25 807.44L86.66 809.38M85.25 807.44L83.84 809.38M85.25 807.44L82.97 806.7M91.75 807.44L91.75 805.04M91.75 807.44L94.03 806.7M91.75 807.44L93.16 809.38M91.75 807.44L90.34 809.38M91.75 807.44L89.47 806.7M98.25 807.44L98.25 805.04M98.25 807.44L100.53 806.7M98.25 807.44L99.66 809.38M98.25 807.44L96.84 809.38M98.25 807.44L95.97 806.7" stroke="#161616" stroke-width="1.2" fill="none"/>
<line x1="100.7" y1="799.6" x2="125.5" y2="799.6" stroke="#54463f" stroke-width="1.3"/>
<path d="M103.55 794.34L103.55 791.94M103.55 794.34L105.83 793.6M103.55 794.34L104.96 796.28M103.55 794.34L102.14 796.28M103.55 794.34L101.27 793.6M110.05 794.34L110.05 791.94M110.05 794.34L112.33 793.6M110.05 794.34L111.46 796.28M110.05 794.34L108.64 796.28M110.05 794.34L107.77 793.6M116.55 794.34L116.55 791.94M116.55 794.34L118.83 793.6M116.55 794.34L117.96 796.28M116.55 794.34L115.14 796.28M116.55 794.34L114.27 793.6M123.05 794.34L123.05 791.94M123.05 794.34L125.33 793.6M123.05 794.34L124.46 796.28M123.05 794.34L121.64 796.28M123.05 794.34L120.77 793.6" stroke="#161616" stroke-width="1.2" fill="none"/>
<text x="24" y="863.42" font-size="9" font-weight="700" text-anchor="middle" fill="#1a1a1a" transform="rotate(-90 24 860.2)" stroke="#1a1a1a" stroke-width="0.2">Relative Extracellular</text>
<text x="35.2" y="863.42" font-size="9" font-weight="700" text-anchor="middle" fill="#1a1a1a" transform="rotate(-90 35.2 860.2)" stroke="#1a1a1a" stroke-width="0.2">lactate levels</text>
<text x="42.8" y="933.86" font-size="8" font-weight="700" text-anchor="middle" fill="#1a1a1a" stroke="#1a1a1a" stroke-width="0.1">20 mM Nala</text>
<text x="42.8" y="944.06" font-size="8" font-weight="700" text-anchor="middle" fill="#1a1a1a" stroke="#1a1a1a" stroke-width="0.1">20 mM Oxamate</text>
<text x="77.25" y="933.86" font-size="8" font-weight="700" text-anchor="middle" fill="#1a1a1a" stroke="#1a1a1a" stroke-width="0.1">-</text>
<text x="77.25" y="944.06" font-size="8" font-weight="700" text-anchor="middle" fill="#1a1a1a" stroke="#1a1a1a" stroke-width="0.1">-</text>
<text x="101.45" y="933.86" font-size="8" font-weight="700" text-anchor="middle" fill="#1a1a1a" stroke="#1a1a1a" stroke-width="0.1">+</text>
<text x="101.45" y="944.06" font-size="8" font-weight="700" text-anchor="middle" fill="#1a1a1a" stroke="#1a1a1a" stroke-width="0.1">-</text>
<text x="125.7" y="933.86" font-size="8" font-weight="700" text-anchor="middle" fill="#1a1a1a" stroke="#1a1a1a" stroke-width="0.1">+</text>
<text x="125.7" y="944.06" font-size="8" font-weight="700" text-anchor="middle" fill="#1a1a1a" stroke="#1a1a1a" stroke-width="0.1">+</text>
<text x="202.5" y="807.83" font-size="13.5" font-weight="700" text-anchor="start" fill="#1a1a1a" stroke="#1a1a1a" stroke-width="0.2">N</text>
<line x1="261.5" y1="803.5" x2="261.5" y2="922.7" stroke="#1e1e1e" stroke-width="1.2"/>
<line x1="256.5" y1="922.2" x2="261.5" y2="922.2" stroke="#1e1e1e" stroke-width="1.2"/>
<text x="254.5" y="925.28" font-size="8.6" font-weight="700" text-anchor="end" fill="#1a1a1a" stroke="#1a1a1a" stroke-width="0.16">0</text>
<line x1="256.5" y1="892.65" x2="261.5" y2="892.65" stroke="#1e1e1e" stroke-width="1.2"/>
<text x="254.5" y="895.73" font-size="8.6" font-weight="700" text-anchor="end" fill="#1a1a1a" stroke="#1a1a1a" stroke-width="0.16">50</text>
<line x1="256.5" y1="863.1" x2="261.5" y2="863.1" stroke="#1e1e1e" stroke-width="1.2"/>
<text x="254.5" y="866.18" font-size="8.6" font-weight="700" text-anchor="end" fill="#1a1a1a" stroke="#1a1a1a" stroke-width="0.16">100</text>
<line x1="256.5" y1="833.55" x2="261.5" y2="833.55" stroke="#1e1e1e" stroke-width="1.2"/>
<text x="254.5" y="836.63" font-size="8.6" font-weight="700" text-anchor="end" fill="#1a1a1a" stroke="#1a1a1a" stroke-width="0.16">150</text>
<line x1="256.5" y1="804" x2="261.5" y2="804" stroke="#1e1e1e" stroke-width="1.2"/>
<text x="254.5" y="807.08" font-size="8.6" font-weight="700" text-anchor="end" fill="#1a1a1a" stroke="#1a1a1a" stroke-width="0.16">200</text>
<line x1="261" y1="922.2" x2="340.6" y2="922.2" stroke="#1e1e1e" stroke-width="1.2"/>
<rect x="269.1" y="813.22" width="16" height="108.98" fill="#5ba3d1"/>
<line x1="277.1" y1="811.45" x2="277.1" y2="814.99" stroke="#1e1e1e" stroke-width="1.1"/>
<line x1="273.5" y1="814.99" x2="280.7" y2="814.99" stroke="#1e1e1e" stroke-width="1.1"/>
<line x1="273.5" y1="811.45" x2="280.7" y2="811.45" stroke="#1e1e1e" stroke-width="1.1"/>
<line x1="277.1" y1="922.2" x2="277.1" y2="927.7" stroke="#1e1e1e" stroke-width="1.2"/>
<rect x="293.05" y="826.81" width="16" height="95.39" fill="#d6bc48"/>
<line x1="301.05" y1="825.63" x2="301.05" y2="827.99" stroke="#1e1e1e" stroke-width="1.1"/>
<line x1="297.45" y1="827.99" x2="304.65" y2="827.99" stroke="#1e1e1e" stroke-width="1.1"/>
<line x1="297.45" y1="825.63" x2="304.65" y2="825.63" stroke="#1e1e1e" stroke-width="1.1"/>
<line x1="301.05" y1="922.2" x2="301.05" y2="927.7" stroke="#1e1e1e" stroke-width="1.2"/>
<rect x="317" y="809.2" width="16" height="113" fill="#a4d05c"/>
<line x1="325" y1="807.31" x2="325" y2="811.09" stroke="#1e1e1e" stroke-width="1.1"/>
<line x1="321.4" y1="811.09" x2="328.6" y2="811.09" stroke="#1e1e1e" stroke-width="1.1"/>
<line x1="321.4" y1="807.31" x2="328.6" y2="807.31" stroke="#1e1e1e" stroke-width="1.1"/>
<line x1="325" y1="922.2" x2="325" y2="927.7" stroke="#1e1e1e" stroke-width="1.2"/>
<line x1="277.8" y1="807.2" x2="301.2" y2="807.2" stroke="#54463f" stroke-width="1.3"/>
<path d="M282.1 801.94L282.1 799.54M282.1 801.94L284.38 801.2M282.1 801.94L283.51 803.88M282.1 801.94L280.69 803.88M282.1 801.94L279.82 801.2M288.6 801.94L288.6 799.54M288.6 801.94L290.88 801.2M288.6 801.94L290.01 803.88M288.6 801.94L287.19 803.88M288.6 801.94L286.32 801.2M295.1 801.94L295.1 799.54M295.1 801.94L297.38 801.2M295.1 801.94L296.51 803.88M295.1 801.94L293.69 803.88M295.1 801.94L292.82 801.2" stroke="#161616" stroke-width="1.2" fill="none"/>
<line x1="301.2" y1="796.7" x2="325.1" y2="796.7" stroke="#54463f" stroke-width="1.3"/>
<path d="M305.5 791.44L305.5 789.04M305.5 791.44L307.78 790.7M305.5 791.44L306.91 793.38M305.5 791.44L304.09 793.38M305.5 791.44L303.22 790.7M312 791.44L312 789.04M312 791.44L314.28 790.7M312 791.44L313.41 793.38M312 791.44L310.59 793.38M312 791.44L309.72 790.7M318.5 791.44L318.5 789.04M318.5 791.44L320.78 790.7M318.5 791.44L319.91 793.38M318.5 791.44L317.09 793.38M318.5 791.44L316.22 790.7" stroke="#161616" stroke-width="1.2" fill="none"/>
<text x="220" y="866.22" font-size="9" font-weight="700" text-anchor="middle" fill="#1a1a1a" transform="rotate(-90 220 863)" stroke="#1a1a1a" stroke-width="0.2">Relative Extracellular</text>
<text x="231" y="866.22" font-size="9" font-weight="700" text-anchor="middle" fill="#1a1a1a" transform="rotate(-90 231 863)" stroke="#1a1a1a" stroke-width="0.2">glucose levels</text>
<text x="243.2" y="934.46" font-size="8" font-weight="700" text-anchor="middle" fill="#1a1a1a" stroke="#1a1a1a" stroke-width="0.1">20 mM Nala</text>
<text x="243.2" y="944.66" font-size="8" font-weight="700" text-anchor="middle" fill="#1a1a1a" stroke="#1a1a1a" stroke-width="0.1">20 mM Oxamate</text>
<text x="277.1" y="934.46" font-size="8" font-weight="700" text-anchor="middle" fill="#1a1a1a" stroke="#1a1a1a" stroke-width="0.1">-</text>
<text x="277.1" y="944.66" font-size="8" font-weight="700" text-anchor="middle" fill="#1a1a1a" stroke="#1a1a1a" stroke-width="0.1">-</text>
<text x="301.05" y="934.46" font-size="8" font-weight="700" text-anchor="middle" fill="#1a1a1a" stroke="#1a1a1a" stroke-width="0.1">+</text>
<text x="301.05" y="944.66" font-size="8" font-weight="700" text-anchor="middle" fill="#1a1a1a" stroke="#1a1a1a" stroke-width="0.1">-</text>
<text x="325" y="934.46" font-size="8" font-weight="700" text-anchor="middle" fill="#1a1a1a" stroke="#1a1a1a" stroke-width="0.1">+</text>
<text x="325" y="944.66" font-size="8" font-weight="700" text-anchor="middle" fill="#1a1a1a" stroke="#1a1a1a" stroke-width="0.1">+</text>
<text x="386" y="807.33" font-size="13.5" font-weight="700" text-anchor="start" fill="#1a1a1a" stroke="#1a1a1a" stroke-width="0.2">O</text>
<line x1="460.2" y1="786.2" x2="460.2" y2="927.7" stroke="#1e1e1e" stroke-width="1.2"/>
<line x1="454.2" y1="927.2" x2="460.2" y2="927.2" stroke="#1e1e1e" stroke-width="1.2"/>
<text x="452.2" y="930.64" font-size="9.6" font-weight="700" text-anchor="end" fill="#1a1a1a" stroke="#1a1a1a" stroke-width="0.2">0</text>
<line x1="454.2" y1="892.08" x2="460.2" y2="892.08" stroke="#1e1e1e" stroke-width="1.2"/>
<text x="452.2" y="895.51" font-size="9.6" font-weight="700" text-anchor="end" fill="#1a1a1a" stroke="#1a1a1a" stroke-width="0.2">50</text>
<line x1="454.2" y1="856.95" x2="460.2" y2="856.95" stroke="#1e1e1e" stroke-width="1.2"/>
<text x="452.2" y="860.39" font-size="9.6" font-weight="700" text-anchor="end" fill="#1a1a1a" stroke="#1a1a1a" stroke-width="0.2">100</text>
<line x1="454.2" y1="821.83" x2="460.2" y2="821.83" stroke="#1e1e1e" stroke-width="1.2"/>
<text x="452.2" y="825.26" font-size="9.6" font-weight="700" text-anchor="end" fill="#1a1a1a" stroke="#1a1a1a" stroke-width="0.2">150</text>
<line x1="454.2" y1="786.7" x2="460.2" y2="786.7" stroke="#1e1e1e" stroke-width="1.2"/>
<text x="452.2" y="790.14" font-size="9.6" font-weight="700" text-anchor="end" fill="#1a1a1a" stroke="#1a1a1a" stroke-width="0.2">200</text>
<line x1="459.7" y1="927.2" x2="601.3" y2="927.2" stroke="#1e1e1e" stroke-width="1.2"/>
<rect x="467.3" y="856.95" width="13.4" height="70.25" fill="#5ba3d1"/>
<line x1="474" y1="853.44" x2="474" y2="860.46" stroke="#1e1e1e" stroke-width="1.1"/>
<line x1="470.8" y1="860.46" x2="477.2" y2="860.46" stroke="#1e1e1e" stroke-width="1.1"/>
<line x1="470.8" y1="853.44" x2="477.2" y2="853.44" stroke="#1e1e1e" stroke-width="1.1"/>
<rect x="487.15" y="844.8" width="13.4" height="82.4" fill="#d6bc48"/>
<line x1="493.85" y1="839.18" x2="493.85" y2="850.42" stroke="#1e1e1e" stroke-width="1.1"/>
<line x1="490.65" y1="850.42" x2="497.05" y2="850.42" stroke="#1e1e1e" stroke-width="1.1"/>
<line x1="490.65" y1="839.18" x2="497.05" y2="839.18" stroke="#1e1e1e" stroke-width="1.1"/>
<rect x="507.4" y="860.88" width="13.4" height="66.32" fill="#a4d05c"/>
<line x1="514.1" y1="853.86" x2="514.1" y2="867.91" stroke="#1e1e1e" stroke-width="1.1"/>
<line x1="510.9" y1="867.91" x2="517.3" y2="867.91" stroke="#1e1e1e" stroke-width="1.1"/>
<line x1="510.9" y1="853.86" x2="517.3" y2="853.86" stroke="#1e1e1e" stroke-width="1.1"/>
<rect x="540.55" y="856.95" width="13.4" height="70.25" fill="#5ba3d1"/>
<line x1="547.25" y1="851.33" x2="547.25" y2="862.57" stroke="#1e1e1e" stroke-width="1.1"/>
<line x1="544.05" y1="862.57" x2="550.45" y2="862.57" stroke="#1e1e1e" stroke-width="1.1"/>
<line x1="544.05" y1="851.33" x2="550.45" y2="851.33" stroke="#1e1e1e" stroke-width="1.1"/>
<rect x="560.85" y="832.64" width="13.4" height="94.56" fill="#d6bc48"/>
<line x1="567.55" y1="821.05" x2="567.55" y2="844.23" stroke="#1e1e1e" stroke-width="1.1"/>
<line x1="564.35" y1="844.23" x2="570.75" y2="844.23" stroke="#1e1e1e" stroke-width="1.1"/>
<line x1="564.35" y1="821.05" x2="570.75" y2="821.05" stroke="#1e1e1e" stroke-width="1.1"/>
<rect x="581.05" y="854.84" width="13.4" height="72.36" fill="#a4d05c"/>
<line x1="587.75" y1="845.71" x2="587.75" y2="863.98" stroke="#1e1e1e" stroke-width="1.1"/>
<line x1="584.55" y1="863.98" x2="590.95" y2="863.98" stroke="#1e1e1e" stroke-width="1.1"/>
<line x1="584.55" y1="845.71" x2="590.95" y2="845.71" stroke="#1e1e1e" stroke-width="1.1"/>
<line x1="493.7" y1="927.2" x2="493.7" y2="932.2" stroke="#1e1e1e" stroke-width="1.2"/>
<text x="496.7" y="943.84" font-size="11" font-weight="700" text-anchor="middle" fill="#1a1a1a" stroke="#1a1a1a" stroke-width="0.2">24h</text>
<line x1="567.5" y1="927.2" x2="567.5" y2="932.2" stroke="#1e1e1e" stroke-width="1.2"/>
<text x="566.7" y="943.84" font-size="11" font-weight="700" text-anchor="middle" fill="#1a1a1a" stroke="#1a1a1a" stroke-width="0.2">48h</text>
<line x1="473.1" y1="835" x2="493.7" y2="835" stroke="#54463f" stroke-width="1.3"/>
<path d="M475.25 830.92L475.25 828.72M475.25 830.92L477.34 830.24M475.25 830.92L476.54 832.7M475.25 830.92L473.96 832.7M475.25 830.92L473.16 830.24M480.75 830.92L480.75 828.72M480.75 830.92L482.84 830.24M480.75 830.92L482.04 832.7M480.75 830.92L479.46 832.7M480.75 830.92L478.66 830.24M486.25 830.92L486.25 828.72M486.25 830.92L488.34 830.24M486.25 830.92L487.54 832.7M486.25 830.92L484.96 832.7M486.25 830.92L484.16 830.24M491.75 830.92L491.75 828.72M491.75 830.92L493.84 830.24M491.75 830.92L493.04 832.7M491.75 830.92L490.46 832.7M491.75 830.92L489.66 830.24" stroke="#161616" stroke-width="1.3" fill="none"/>
<line x1="493.7" y1="824.6" x2="514.1" y2="824.6" stroke="#54463f" stroke-width="1.3"/>
<path d="M495.35 820.52L495.35 818.32M495.35 820.52L497.44 819.84M495.35 820.52L496.64 822.3M495.35 820.52L494.06 822.3M495.35 820.52L493.26 819.84M500.85 820.52L500.85 818.32M500.85 820.52L502.94 819.84M500.85 820.52L502.14 822.3M500.85 820.52L499.56 822.3M500.85 820.52L498.76 819.84M506.35 820.52L506.35 818.32M506.35 820.52L508.44 819.84M506.35 820.52L507.64 822.3M506.35 820.52L505.06 822.3M506.35 820.52L504.26 819.84M511.85 820.52L511.85 818.32M511.85 820.52L513.94 819.84M511.85 820.52L513.14 822.3M511.85 820.52L510.56 822.3M511.85 820.52L509.76 819.84" stroke="#161616" stroke-width="1.3" fill="none"/>
<line x1="547.3" y1="819.1" x2="567.5" y2="819.1" stroke="#54463f" stroke-width="1.3"/>
<path d="M549.05 815.02L549.05 812.82M549.05 815.02L551.14 814.34M549.05 815.02L550.34 816.8M549.05 815.02L547.76 816.8M549.05 815.02L546.96 814.34M554.55 815.02L554.55 812.82M554.55 815.02L556.64 814.34M554.55 815.02L555.84 816.8M554.55 815.02L553.26 816.8M554.55 815.02L552.46 814.34M560.05 815.02L560.05 812.82M560.05 815.02L562.14 814.34M560.05 815.02L561.34 816.8M560.05 815.02L558.76 816.8M560.05 815.02L557.96 814.34M565.55 815.02L565.55 812.82M565.55 815.02L567.64 814.34M565.55 815.02L566.84 816.8M565.55 815.02L564.26 816.8M565.55 815.02L563.46 814.34" stroke="#161616" stroke-width="1.3" fill="none"/>
<line x1="567.5" y1="811" x2="587.8" y2="811" stroke="#54463f" stroke-width="1.3"/>
<path d="M572.3 806.92L572.3 804.72M572.3 806.92L574.39 806.24M572.3 806.92L573.59 808.7M572.3 806.92L571.01 808.7M572.3 806.92L570.21 806.24M577.8 806.92L577.8 804.72M577.8 806.92L579.89 806.24M577.8 806.92L579.09 808.7M577.8 806.92L576.51 808.7M577.8 806.92L575.71 806.24M583.3 806.92L583.3 804.72M583.3 806.92L585.39 806.24M583.3 806.92L584.59 808.7M583.3 806.92L582.01 808.7M583.3 806.92L581.21 806.24" stroke="#161616" stroke-width="1.3" fill="none"/>
<text x="424.7" y="863.15" font-size="11.6" font-weight="700" text-anchor="middle" fill="#1a1a1a" transform="rotate(-90 424.7 859)" stroke="#1a1a1a" stroke-width="0.2">HEL Cell viability (%)</text>
<text x="520.3" y="779.97" font-size="8.3" font-weight="700" text-anchor="end" fill="#1a1a1a" stroke="#1a1a1a" stroke-width="0.13">12h CM</text>
<line x1="523.3" y1="769.6" x2="523.3" y2="784.2" stroke="#1e1e1e" stroke-width="1.2"/>
<text x="543.4" y="774.57" font-size="8.3" font-weight="700" text-anchor="middle" fill="#1a1a1a" stroke="#1a1a1a" stroke-width="0.13">Nala</text>
<text x="544" y="784.57" font-size="8.3" font-weight="700" text-anchor="middle" fill="#1a1a1a" stroke="#1a1a1a" stroke-width="0.13">Oxamate</text>
<text x="571.6" y="774.37" font-size="8.3" font-weight="700" text-anchor="middle" fill="#1a1a1a" stroke="#1a1a1a" stroke-width="0.13">-</text>
<text x="571.6" y="784.37" font-size="8.3" font-weight="700" text-anchor="middle" fill="#1a1a1a" stroke="#1a1a1a" stroke-width="0.13">-</text>
<text x="585" y="774.37" font-size="8.3" font-weight="700" text-anchor="middle" fill="#1a1a1a" stroke="#1a1a1a" stroke-width="0.13">+</text>
<text x="585" y="784.37" font-size="8.3" font-weight="700" text-anchor="middle" fill="#1a1a1a" stroke="#1a1a1a" stroke-width="0.13">-</text>
<text x="599.1" y="774.37" font-size="8.3" font-weight="700" text-anchor="middle" fill="#1a1a1a" stroke="#1a1a1a" stroke-width="0.13">+</text>
<text x="599.1" y="784.37" font-size="8.3" font-weight="700" text-anchor="middle" fill="#1a1a1a" stroke="#1a1a1a" stroke-width="0.13">+</text>
<rect x="565.6" y="785.4" width="11.9" height="5.6" fill="#5ba3d1"/>
<rect x="579.1" y="785.4" width="11.9" height="5.6" fill="#d6bc48"/>
<rect x="592.6" y="785.4" width="11.9" height="5.6" fill="#a4d05c"/>
</svg>
</body></html>
